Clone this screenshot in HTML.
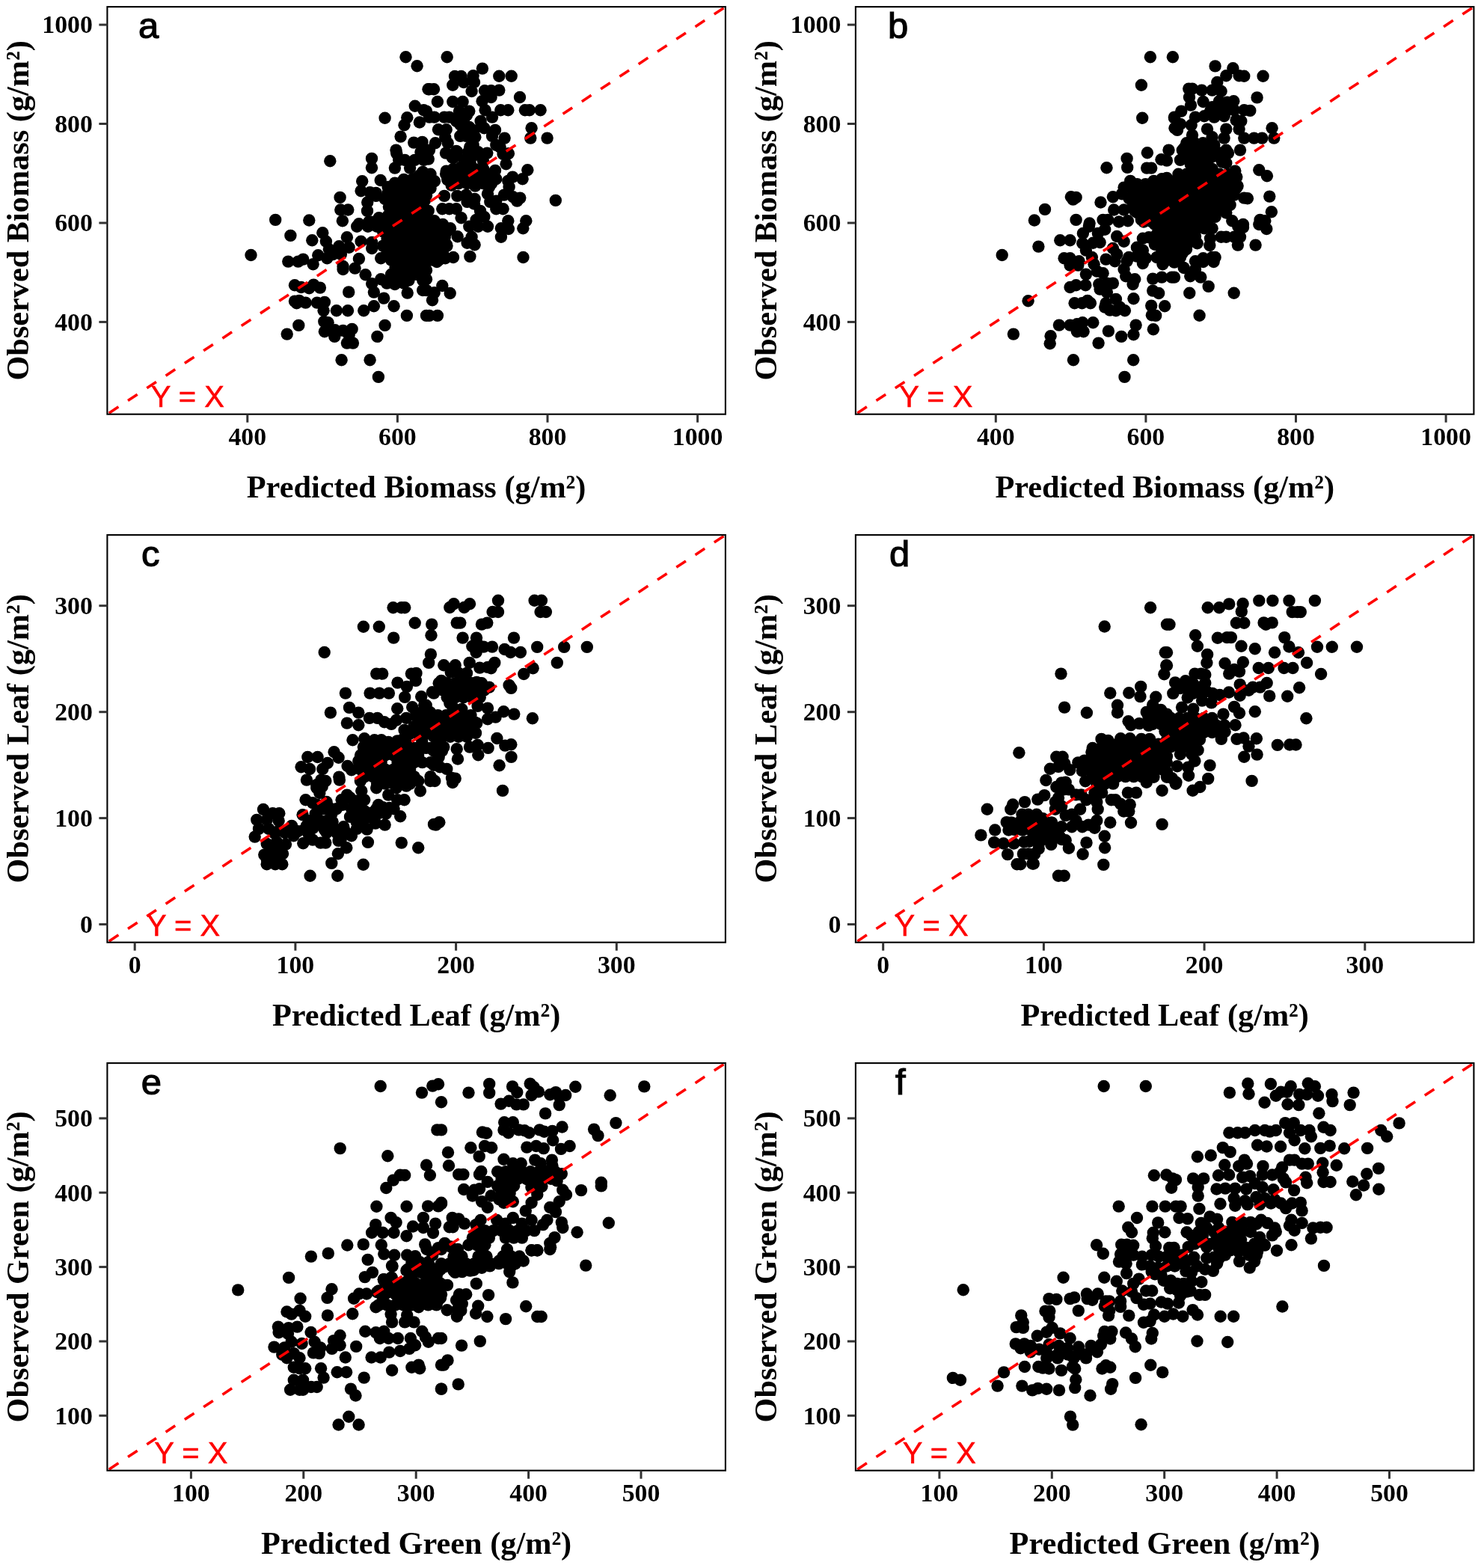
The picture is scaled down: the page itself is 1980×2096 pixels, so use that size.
<!DOCTYPE html>
<html lang="en"><head><meta charset="utf-8"><title>Observed vs Predicted</title>
<style>
html,body{margin:0;padding:0;background:#fff}
body{width:1980px;height:2096px;overflow:hidden}
svg{display:block}
.t{font-family:"Liberation Serif",serif;font-weight:bold;font-size:33.8px;fill:#000}
.l{font-family:"Liberation Serif",serif;font-weight:bold;font-size:42.3px;fill:#000}
.p{font-family:"Liberation Sans",sans-serif;font-size:49px;fill:#000;stroke:#000;stroke-width:1.2px}
.e{font-family:"Liberation Sans",sans-serif;font-size:40px;fill:#f00;stroke:#f00;stroke-width:.5px}
.k{stroke:#333;stroke-width:3}
.f{fill:none;stroke:#000;stroke-width:2.1}
.d{stroke:#f00;stroke-width:3.6;stroke-dasharray:15.14 15.14}
.c circle{r:8.2px}
</style></head>
<body>
<svg width="1980" height="2096" viewBox="0 0 1980 2096">
<rect width="1980" height="2096" fill="#fff"/>
<g id="panel-a">
<g class="c" fill="#000"><circle cx="542.5" cy="76.3" r="8.2"/><circle cx="557.6" cy="88.2" r="8.2"/><circle cx="572.5" cy="119.3" r="8.2"/><circle cx="554.8" cy="141.7" r="8.2"/><circle cx="566.5" cy="147.3" r="8.2"/><circle cx="514.6" cy="157.7" r="8.2"/><circle cx="544.3" cy="157.3" r="8.2"/><circle cx="540.5" cy="167.3" r="8.2"/><circle cx="560.9" cy="163.5" r="8.2"/><circle cx="535.6" cy="182.6" r="8.2"/><circle cx="553.2" cy="190.6" r="8.2"/><circle cx="564.5" cy="189.9" r="8.2"/><circle cx="529.5" cy="200.6" r="8.2"/><circle cx="530.3" cy="205.3" r="8.2"/><circle cx="497.0" cy="211.9" r="8.2"/><circle cx="497.0" cy="224.2" r="8.2"/><circle cx="441.3" cy="215.2" r="8.2"/><circle cx="533.2" cy="213.9" r="8.2"/><circle cx="541.2" cy="213.9" r="8.2"/><circle cx="527.9" cy="224.6" r="8.2"/><circle cx="548.1" cy="224.6" r="8.2"/><circle cx="554.5" cy="213.9" r="8.2"/><circle cx="562.5" cy="203.3" r="8.2"/><circle cx="566.5" cy="213.9" r="8.2"/><circle cx="565.2" cy="229.9" r="8.2"/><circle cx="484.2" cy="242.3" r="8.2"/><circle cx="508.7" cy="241.0" r="8.2"/><circle cx="482.6" cy="255.2" r="8.2"/><circle cx="494.6" cy="257.2" r="8.2"/><circle cx="502.6" cy="257.9" r="8.2"/><circle cx="502.6" cy="261.9" r="8.2"/><circle cx="454.6" cy="263.9" r="8.2"/><circle cx="491.2" cy="270.5" r="8.2"/><circle cx="455.3" cy="280.5" r="8.2"/><circle cx="465.3" cy="280.5" r="8.2"/><circle cx="491.0" cy="281.9" r="8.2"/><circle cx="368.2" cy="293.9" r="8.2"/><circle cx="413.3" cy="294.5" r="8.2"/><circle cx="457.9" cy="295.2" r="8.2"/><circle cx="506.6" cy="291.2" r="8.2"/><circle cx="518.6" cy="249.9" r="8.2"/><circle cx="527.9" cy="244.6" r="8.2"/><circle cx="539.9" cy="239.9" r="8.2"/><circle cx="551.9" cy="239.2" r="8.2"/><circle cx="559.9" cy="235.2" r="8.2"/><circle cx="514.6" cy="265.9" r="8.2"/><circle cx="519.9" cy="276.5" r="8.2"/><circle cx="518.6" cy="288.5" r="8.2"/><circle cx="493.2" cy="296.5" r="8.2"/><circle cx="479.9" cy="299.2" r="8.2"/><circle cx="562.4" cy="239.4" r="8.2"/><circle cx="523.9" cy="249.0" r="8.2"/><circle cx="534.9" cy="249.0" r="8.2"/><circle cx="545.9" cy="249.0" r="8.2"/><circle cx="556.9" cy="249.0" r="8.2"/><circle cx="567.9" cy="249.0" r="8.2"/><circle cx="518.4" cy="258.5" r="8.2"/><circle cx="529.4" cy="258.5" r="8.2"/><circle cx="540.4" cy="258.5" r="8.2"/><circle cx="551.4" cy="258.5" r="8.2"/><circle cx="562.4" cy="258.5" r="8.2"/><circle cx="523.9" cy="268.0" r="8.2"/><circle cx="534.9" cy="268.0" r="8.2"/><circle cx="545.9" cy="268.0" r="8.2"/><circle cx="556.9" cy="268.0" r="8.2"/><circle cx="567.9" cy="268.0" r="8.2"/><circle cx="529.4" cy="277.5" r="8.2"/><circle cx="540.4" cy="277.5" r="8.2"/><circle cx="551.4" cy="277.5" r="8.2"/><circle cx="562.4" cy="277.5" r="8.2"/><circle cx="523.9" cy="287.1" r="8.2"/><circle cx="534.9" cy="287.1" r="8.2"/><circle cx="545.9" cy="287.1" r="8.2"/><circle cx="556.9" cy="287.1" r="8.2"/><circle cx="567.9" cy="287.1" r="8.2"/><circle cx="496.4" cy="296.6" r="8.2"/><circle cx="507.4" cy="296.6" r="8.2"/><circle cx="518.4" cy="296.6" r="8.2"/><circle cx="529.4" cy="296.6" r="8.2"/><circle cx="540.4" cy="296.6" r="8.2"/><circle cx="551.4" cy="296.6" r="8.2"/><circle cx="562.4" cy="296.6" r="8.2"/><circle cx="597.7" cy="76.3" r="8.2"/><circle cx="644.9" cy="91.6" r="8.2"/><circle cx="667.3" cy="101.7" r="8.2"/><circle cx="683.7" cy="101.7" r="8.2"/><circle cx="608.0" cy="102.0" r="8.2"/><circle cx="616.6" cy="102.0" r="8.2"/><circle cx="632.6" cy="101.3" r="8.2"/><circle cx="605.3" cy="113.7" r="8.2"/><circle cx="620.0" cy="110.0" r="8.2"/><circle cx="634.0" cy="110.0" r="8.2"/><circle cx="630.6" cy="122.0" r="8.2"/><circle cx="574.0" cy="119.3" r="8.2"/><circle cx="580.0" cy="119.3" r="8.2"/><circle cx="648.0" cy="121.3" r="8.2"/><circle cx="656.6" cy="121.3" r="8.2"/><circle cx="667.3" cy="120.6" r="8.2"/><circle cx="656.6" cy="130.0" r="8.2"/><circle cx="644.6" cy="135.3" r="8.2"/><circle cx="695.0" cy="130.0" r="8.2"/><circle cx="584.9" cy="136.0" r="8.2"/><circle cx="605.3" cy="136.0" r="8.2"/><circle cx="618.6" cy="136.0" r="8.2"/><circle cx="648.6" cy="147.3" r="8.2"/><circle cx="669.3" cy="147.3" r="8.2"/><circle cx="679.3" cy="147.3" r="8.2"/><circle cx="701.9" cy="147.3" r="8.2"/><circle cx="707.9" cy="147.3" r="8.2"/><circle cx="722.6" cy="147.3" r="8.2"/><circle cx="614.0" cy="148.6" r="8.2"/><circle cx="627.3" cy="148.6" r="8.2"/><circle cx="570.0" cy="148.6" r="8.2"/><circle cx="574.0" cy="156.6" r="8.2"/><circle cx="580.7" cy="156.6" r="8.2"/><circle cx="594.0" cy="156.6" r="8.2"/><circle cx="600.7" cy="156.6" r="8.2"/><circle cx="658.0" cy="156.6" r="8.2"/><circle cx="642.6" cy="161.9" r="8.2"/><circle cx="610.0" cy="161.9" r="8.2"/><circle cx="620.6" cy="164.6" r="8.2"/><circle cx="627.3" cy="169.9" r="8.2"/><circle cx="586.0" cy="173.3" r="8.2"/><circle cx="596.7" cy="173.3" r="8.2"/><circle cx="647.3" cy="171.3" r="8.2"/><circle cx="662.0" cy="173.9" r="8.2"/><circle cx="710.6" cy="171.3" r="8.2"/><circle cx="615.3" cy="181.9" r="8.2"/><circle cx="623.3" cy="181.9" r="8.2"/><circle cx="635.3" cy="183.3" r="8.2"/><circle cx="658.0" cy="181.9" r="8.2"/><circle cx="674.6" cy="184.6" r="8.2"/><circle cx="709.3" cy="184.6" r="8.2"/><circle cx="731.6" cy="184.6" r="8.2"/><circle cx="582.0" cy="191.3" r="8.2"/><circle cx="598.7" cy="191.3" r="8.2"/><circle cx="632.6" cy="193.9" r="8.2"/><circle cx="663.3" cy="193.9" r="8.2"/><circle cx="668.6" cy="196.6" r="8.2"/><circle cx="574.0" cy="200.6" r="8.2"/><circle cx="596.0" cy="204.6" r="8.2"/><circle cx="610.0" cy="201.9" r="8.2"/><circle cx="626.0" cy="203.3" r="8.2"/><circle cx="639.3" cy="203.3" r="8.2"/><circle cx="651.3" cy="204.6" r="8.2"/><circle cx="672.6" cy="205.9" r="8.2"/><circle cx="679.9" cy="205.3" r="8.2"/><circle cx="606.0" cy="211.2" r="8.2"/><circle cx="620.6" cy="213.9" r="8.2"/><circle cx="628.6" cy="217.9" r="8.2"/><circle cx="646.0" cy="215.2" r="8.2"/><circle cx="676.6" cy="219.2" r="8.2"/><circle cx="705.3" cy="227.2" r="8.2"/><circle cx="662.0" cy="227.9" r="8.2"/><circle cx="685.3" cy="236.6" r="8.2"/><circle cx="698.6" cy="239.2" r="8.2"/><circle cx="679.3" cy="241.9" r="8.2"/><circle cx="663.3" cy="239.2" r="8.2"/><circle cx="596.7" cy="228.6" r="8.2"/><circle cx="606.0" cy="225.9" r="8.2"/><circle cx="616.6" cy="223.2" r="8.2"/><circle cx="680.6" cy="249.9" r="8.2"/><circle cx="635.3" cy="248.6" r="8.2"/><circle cx="654.0" cy="249.9" r="8.2"/><circle cx="594.0" cy="261.9" r="8.2"/><circle cx="611.3" cy="261.9" r="8.2"/><circle cx="623.3" cy="260.6" r="8.2"/><circle cx="652.0" cy="259.2" r="8.2"/><circle cx="673.9" cy="260.6" r="8.2"/><circle cx="685.9" cy="263.2" r="8.2"/><circle cx="695.3" cy="264.6" r="8.2"/><circle cx="742.8" cy="267.9" r="8.2"/><circle cx="663.3" cy="268.6" r="8.2"/><circle cx="691.3" cy="268.6" r="8.2"/><circle cx="655.3" cy="269.9" r="8.2"/><circle cx="634.0" cy="272.5" r="8.2"/><circle cx="624.6" cy="269.9" r="8.2"/><circle cx="591.3" cy="279.2" r="8.2"/><circle cx="600.7" cy="279.2" r="8.2"/><circle cx="610.0" cy="279.2" r="8.2"/><circle cx="642.0" cy="281.9" r="8.2"/><circle cx="663.3" cy="279.2" r="8.2"/><circle cx="672.6" cy="279.2" r="8.2"/><circle cx="572.7" cy="281.9" r="8.2"/><circle cx="616.6" cy="291.2" r="8.2"/><circle cx="580.7" cy="295.2" r="8.2"/><circle cx="679.3" cy="295.2" r="8.2"/><circle cx="703.3" cy="295.2" r="8.2"/><circle cx="636.6" cy="293.9" r="8.2"/><circle cx="647.3" cy="289.9" r="8.2"/><circle cx="613.2" cy="226.1" r="8.2"/><circle cx="624.2" cy="226.1" r="8.2"/><circle cx="635.2" cy="226.1" r="8.2"/><circle cx="646.2" cy="226.1" r="8.2"/><circle cx="607.7" cy="235.6" r="8.2"/><circle cx="618.7" cy="235.6" r="8.2"/><circle cx="629.7" cy="235.6" r="8.2"/><circle cx="640.7" cy="235.6" r="8.2"/><circle cx="651.7" cy="235.6" r="8.2"/><circle cx="613.2" cy="245.2" r="8.2"/><circle cx="624.2" cy="245.2" r="8.2"/><circle cx="635.2" cy="245.2" r="8.2"/><circle cx="646.2" cy="245.2" r="8.2"/><circle cx="657.2" cy="245.2" r="8.2"/><circle cx="575.5" cy="232.8" r="8.2"/><circle cx="570.0" cy="242.3" r="8.2"/><circle cx="581.0" cy="242.3" r="8.2"/><circle cx="575.5" cy="251.8" r="8.2"/><circle cx="570.0" cy="261.3" r="8.2"/><circle cx="627.3" cy="302.7" r="8.2"/><circle cx="639.3" cy="302.7" r="8.2"/><circle cx="652.0" cy="302.7" r="8.2"/><circle cx="669.9" cy="305.3" r="8.2"/><circle cx="679.9" cy="306.0" r="8.2"/><circle cx="699.3" cy="305.3" r="8.2"/><circle cx="602.0" cy="305.3" r="8.2"/><circle cx="611.7" cy="316.3" r="8.2"/><circle cx="630.6" cy="316.7" r="8.2"/><circle cx="669.9" cy="316.7" r="8.2"/><circle cx="624.6" cy="324.7" r="8.2"/><circle cx="634.6" cy="327.3" r="8.2"/><circle cx="594.7" cy="317.3" r="8.2"/><circle cx="596.7" cy="326.7" r="8.2"/><circle cx="578.0" cy="313.3" r="8.2"/><circle cx="570.0" cy="300.0" r="8.2"/><circle cx="581.0" cy="300.0" r="8.2"/><circle cx="592.0" cy="300.0" r="8.2"/><circle cx="575.5" cy="309.5" r="8.2"/><circle cx="586.5" cy="309.5" r="8.2"/><circle cx="597.5" cy="309.5" r="8.2"/><circle cx="570.0" cy="319.1" r="8.2"/><circle cx="581.0" cy="319.1" r="8.2"/><circle cx="592.0" cy="319.1" r="8.2"/><circle cx="575.5" cy="328.6" r="8.2"/><circle cx="586.5" cy="328.6" r="8.2"/><circle cx="597.5" cy="328.6" r="8.2"/><circle cx="570.0" cy="338.1" r="8.2"/><circle cx="581.0" cy="338.1" r="8.2"/><circle cx="592.0" cy="338.1" r="8.2"/><circle cx="575.5" cy="347.6" r="8.2"/><circle cx="586.5" cy="347.6" r="8.2"/><circle cx="628.4" cy="342.9" r="8.2"/><circle cx="606.0" cy="344.0" r="8.2"/><circle cx="699.5" cy="344.0" r="8.2"/><circle cx="595.3" cy="345.3" r="8.2"/><circle cx="584.0" cy="350.0" r="8.2"/><circle cx="570.0" cy="373.3" r="8.2"/><circle cx="570.0" cy="361.3" r="8.2"/><circle cx="591.3" cy="382.0" r="8.2"/><circle cx="580.7" cy="391.3" r="8.2"/><circle cx="601.7" cy="392.0" r="8.2"/><circle cx="578.0" cy="401.3" r="8.2"/><circle cx="570.0" cy="388.0" r="8.2"/><circle cx="574.0" cy="421.9" r="8.2"/><circle cx="584.9" cy="421.9" r="8.2"/><circle cx="335.5" cy="341.0" r="8.2"/><circle cx="388.4" cy="314.9" r="8.2"/><circle cx="417.3" cy="321.3" r="8.2"/><circle cx="431.3" cy="311.3" r="8.2"/><circle cx="435.9" cy="322.7" r="8.2"/><circle cx="439.9" cy="333.3" r="8.2"/><circle cx="463.9" cy="317.3" r="8.2"/><circle cx="453.3" cy="329.3" r="8.2"/><circle cx="466.6" cy="330.7" r="8.2"/><circle cx="482.6" cy="322.7" r="8.2"/><circle cx="497.2" cy="324.0" r="8.2"/><circle cx="497.2" cy="332.0" r="8.2"/><circle cx="477.2" cy="302.7" r="8.2"/><circle cx="491.9" cy="302.7" r="8.2"/><circle cx="503.9" cy="302.7" r="8.2"/><circle cx="385.3" cy="349.6" r="8.2"/><circle cx="398.6" cy="349.6" r="8.2"/><circle cx="405.3" cy="346.6" r="8.2"/><circle cx="418.6" cy="353.3" r="8.2"/><circle cx="425.3" cy="341.3" r="8.2"/><circle cx="437.3" cy="345.3" r="8.2"/><circle cx="445.3" cy="340.0" r="8.2"/><circle cx="455.9" cy="340.0" r="8.2"/><circle cx="479.9" cy="346.0" r="8.2"/><circle cx="458.6" cy="356.0" r="8.2"/><circle cx="458.6" cy="360.0" r="8.2"/><circle cx="474.6" cy="358.6" r="8.2"/><circle cx="488.6" cy="367.3" r="8.2"/><circle cx="509.2" cy="345.3" r="8.2"/><circle cx="497.2" cy="379.3" r="8.2"/><circle cx="509.2" cy="373.3" r="8.2"/><circle cx="499.9" cy="390.6" r="8.2"/><circle cx="513.2" cy="398.6" r="8.2"/><circle cx="506.6" cy="300.0" r="8.2"/><circle cx="517.6" cy="300.0" r="8.2"/><circle cx="528.6" cy="300.0" r="8.2"/><circle cx="539.6" cy="300.0" r="8.2"/><circle cx="550.6" cy="300.0" r="8.2"/><circle cx="561.6" cy="300.0" r="8.2"/><circle cx="512.1" cy="309.5" r="8.2"/><circle cx="523.1" cy="309.5" r="8.2"/><circle cx="534.1" cy="309.5" r="8.2"/><circle cx="545.1" cy="309.5" r="8.2"/><circle cx="556.1" cy="309.5" r="8.2"/><circle cx="567.1" cy="309.5" r="8.2"/><circle cx="517.6" cy="319.1" r="8.2"/><circle cx="528.6" cy="319.1" r="8.2"/><circle cx="539.6" cy="319.1" r="8.2"/><circle cx="550.6" cy="319.1" r="8.2"/><circle cx="561.6" cy="319.1" r="8.2"/><circle cx="512.1" cy="328.6" r="8.2"/><circle cx="523.1" cy="328.6" r="8.2"/><circle cx="534.1" cy="328.6" r="8.2"/><circle cx="545.1" cy="328.6" r="8.2"/><circle cx="556.1" cy="328.6" r="8.2"/><circle cx="567.1" cy="328.6" r="8.2"/><circle cx="517.6" cy="338.1" r="8.2"/><circle cx="528.6" cy="338.1" r="8.2"/><circle cx="539.6" cy="338.1" r="8.2"/><circle cx="550.6" cy="338.1" r="8.2"/><circle cx="561.6" cy="338.1" r="8.2"/><circle cx="523.1" cy="347.6" r="8.2"/><circle cx="534.1" cy="347.6" r="8.2"/><circle cx="545.1" cy="347.6" r="8.2"/><circle cx="556.1" cy="347.6" r="8.2"/><circle cx="567.1" cy="347.6" r="8.2"/><circle cx="528.6" cy="357.2" r="8.2"/><circle cx="539.6" cy="357.2" r="8.2"/><circle cx="550.6" cy="357.2" r="8.2"/><circle cx="561.6" cy="357.2" r="8.2"/><circle cx="523.1" cy="366.7" r="8.2"/><circle cx="534.1" cy="366.7" r="8.2"/><circle cx="545.1" cy="366.7" r="8.2"/><circle cx="556.1" cy="366.7" r="8.2"/><circle cx="567.1" cy="366.7" r="8.2"/><circle cx="528.6" cy="376.2" r="8.2"/><circle cx="539.6" cy="376.2" r="8.2"/><circle cx="517.2" cy="378.6" r="8.2"/><circle cx="527.9" cy="380.0" r="8.2"/><circle cx="539.9" cy="378.6" r="8.2"/><circle cx="546.5" cy="374.6" r="8.2"/><circle cx="565.2" cy="374.6" r="8.2"/><circle cx="565.2" cy="388.0" r="8.2"/><circle cx="544.7" cy="391.6" r="8.2"/><circle cx="394.0" cy="381.3" r="8.2"/><circle cx="402.6" cy="384.0" r="8.2"/><circle cx="413.3" cy="385.3" r="8.2"/><circle cx="419.3" cy="380.6" r="8.2"/><circle cx="427.9" cy="384.6" r="8.2"/><circle cx="466.2" cy="390.4" r="8.2"/><circle cx="394.0" cy="402.6" r="8.2"/><circle cx="400.0" cy="401.9" r="8.2"/><circle cx="408.6" cy="404.6" r="8.2"/><circle cx="423.9" cy="404.6" r="8.2"/><circle cx="433.9" cy="403.9" r="8.2"/><circle cx="396.6" cy="405.3" r="8.2"/><circle cx="432.6" cy="415.3" r="8.2"/><circle cx="449.9" cy="415.3" r="8.2"/><circle cx="465.0" cy="415.3" r="8.2"/><circle cx="486.3" cy="415.3" r="8.2"/><circle cx="499.9" cy="409.3" r="8.2"/><circle cx="526.6" cy="409.3" r="8.2"/><circle cx="543.9" cy="421.9" r="8.2"/><circle cx="570.0" cy="421.9" r="8.2"/><circle cx="399.3" cy="434.9" r="8.2"/><circle cx="383.7" cy="446.6" r="8.2"/><circle cx="433.3" cy="429.9" r="8.2"/><circle cx="438.6" cy="431.3" r="8.2"/><circle cx="433.9" cy="443.3" r="8.2"/><circle cx="447.9" cy="441.3" r="8.2"/><circle cx="458.6" cy="441.9" r="8.2"/><circle cx="470.6" cy="439.9" r="8.2"/><circle cx="447.3" cy="449.9" r="8.2"/><circle cx="463.9" cy="458.6" r="8.2"/><circle cx="471.9" cy="458.6" r="8.2"/><circle cx="466.6" cy="447.9" r="8.2"/><circle cx="514.6" cy="434.9" r="8.2"/><circle cx="504.4" cy="449.9" r="8.2"/><circle cx="456.6" cy="481.2" r="8.2"/><circle cx="494.6" cy="481.2" r="8.2"/><circle cx="505.9" cy="503.9" r="8.2"/><circle cx="598.2" cy="240.1" r="8.2"/><circle cx="603.6" cy="247.6" r="8.2"/><circle cx="596.1" cy="232.6" r="8.2"/><circle cx="615.4" cy="166.8" r="8.2"/><circle cx="619.7" cy="174.2" r="8.2"/><circle cx="633.6" cy="174.2" r="8.2"/><circle cx="595.2" cy="183.8" r="8.2"/><circle cx="624.0" cy="154.0" r="8.2"/><circle cx="617.6" cy="158.2" r="8.2"/><circle cx="604.8" cy="210.5" r="8.2"/><circle cx="624.0" cy="212.6" r="8.2"/><circle cx="634.6" cy="207.3" r="8.2"/><circle cx="611.2" cy="203.0" r="8.2"/><circle cx="628.2" cy="196.6" r="8.2"/><circle cx="572.8" cy="212.6" r="8.2"/><circle cx="653.8" cy="247.8" r="8.2"/><circle cx="634.6" cy="265.9" r="8.2"/></g>
<line class="d" x1="143.4" y1="553.7" x2="969.9" y2="9.1" stroke-dashoffset="-2.8"/>
<rect class="f" x="143.4" y="9.1" width="826.5" height="544.6"/>
<line class="k" x1="330.8" y1="553.7" x2="330.8" y2="564.7"/><text class="t" x="330.8" y="595.2" text-anchor="middle">400</text>
<line class="k" x1="531.4" y1="553.7" x2="531.4" y2="564.7"/><text class="t" x="531.4" y="595.2" text-anchor="middle">600</text>
<line class="k" x1="732.0" y1="553.7" x2="732.0" y2="564.7"/><text class="t" x="732.0" y="595.2" text-anchor="middle">800</text>
<line class="k" x1="932.6" y1="553.7" x2="932.6" y2="564.7"/><text class="t" x="932.6" y="595.2" text-anchor="middle">1000</text>
<line class="k" x1="132.4" y1="430.4" x2="143.4" y2="430.4"/><text class="t" x="123.9" y="441.7" text-anchor="end">400</text>
<line class="k" x1="132.4" y1="298.0" x2="143.4" y2="298.0"/><text class="t" x="123.9" y="309.3" text-anchor="end">600</text>
<line class="k" x1="132.4" y1="165.5" x2="143.4" y2="165.5"/><text class="t" x="123.9" y="176.8" text-anchor="end">800</text>
<line class="k" x1="132.4" y1="33.1" x2="143.4" y2="33.1"/><text class="t" x="123.9" y="44.4" text-anchor="end">1000</text>
<text class="l" x="556.6" y="665.2" text-anchor="middle">Predicted Biomass (g/m²)</text>
<text class="l" transform="translate(37.9 281.4) rotate(-90)" text-anchor="middle">Observed Biomass (g/m²)</text>
<text class="p" x="185.1" y="50.5">a</text>
<text class="e" x="201.8" y="543.9">Y = X</text>
</g>
<g id="panel-b">
<g class="c" fill="#000"><circle cx="1537.9" cy="76.3" r="8.2"/><circle cx="1567.9" cy="76.3" r="8.2"/><circle cx="1525.9" cy="113.7" r="8.2"/><circle cx="1527.2" cy="157.7" r="8.2"/><circle cx="1570.0" cy="157.7" r="8.2"/><circle cx="1570.5" cy="171.3" r="8.2"/><circle cx="1562.5" cy="200.6" r="8.2"/><circle cx="1533.9" cy="204.2" r="8.2"/><circle cx="1506.6" cy="211.9" r="8.2"/><circle cx="1552.5" cy="213.2" r="8.2"/><circle cx="1559.9" cy="214.6" r="8.2"/><circle cx="1479.5" cy="224.2" r="8.2"/><circle cx="1507.2" cy="223.9" r="8.2"/><circle cx="1533.2" cy="224.6" r="8.2"/><circle cx="1539.2" cy="224.6" r="8.2"/><circle cx="1511.2" cy="241.9" r="8.2"/><circle cx="1542.5" cy="241.9" r="8.2"/><circle cx="1553.2" cy="239.2" r="8.2"/><circle cx="1559.9" cy="237.9" r="8.2"/><circle cx="1502.6" cy="250.6" r="8.2"/><circle cx="1515.9" cy="248.6" r="8.2"/><circle cx="1527.9" cy="249.9" r="8.2"/><circle cx="1499.9" cy="259.2" r="8.2"/><circle cx="1431.9" cy="263.2" r="8.2"/><circle cx="1438.6" cy="263.9" r="8.2"/><circle cx="1434.6" cy="266.6" r="8.2"/><circle cx="1487.9" cy="263.2" r="8.2"/><circle cx="1471.5" cy="270.5" r="8.2"/><circle cx="1520.4" cy="246.1" r="8.2"/><circle cx="1531.4" cy="246.1" r="8.2"/><circle cx="1542.4" cy="246.1" r="8.2"/><circle cx="1553.4" cy="246.1" r="8.2"/><circle cx="1564.4" cy="246.1" r="8.2"/><circle cx="1514.9" cy="255.6" r="8.2"/><circle cx="1525.9" cy="255.6" r="8.2"/><circle cx="1536.9" cy="255.6" r="8.2"/><circle cx="1547.9" cy="255.6" r="8.2"/><circle cx="1558.9" cy="255.6" r="8.2"/><circle cx="1569.9" cy="255.6" r="8.2"/><circle cx="1509.4" cy="265.1" r="8.2"/><circle cx="1520.4" cy="265.1" r="8.2"/><circle cx="1531.4" cy="265.1" r="8.2"/><circle cx="1542.4" cy="265.1" r="8.2"/><circle cx="1553.4" cy="265.1" r="8.2"/><circle cx="1564.4" cy="265.1" r="8.2"/><circle cx="1514.9" cy="274.7" r="8.2"/><circle cx="1525.9" cy="274.7" r="8.2"/><circle cx="1536.9" cy="274.7" r="8.2"/><circle cx="1547.9" cy="274.7" r="8.2"/><circle cx="1558.9" cy="274.7" r="8.2"/><circle cx="1569.9" cy="274.7" r="8.2"/><circle cx="1520.4" cy="284.2" r="8.2"/><circle cx="1531.4" cy="284.2" r="8.2"/><circle cx="1542.4" cy="284.2" r="8.2"/><circle cx="1553.4" cy="284.2" r="8.2"/><circle cx="1564.4" cy="284.2" r="8.2"/><circle cx="1525.9" cy="293.7" r="8.2"/><circle cx="1536.9" cy="293.7" r="8.2"/><circle cx="1547.9" cy="293.7" r="8.2"/><circle cx="1558.9" cy="293.7" r="8.2"/><circle cx="1569.9" cy="293.7" r="8.2"/><circle cx="1397.0" cy="279.9" r="8.2"/><circle cx="1489.2" cy="280.5" r="8.2"/><circle cx="1502.6" cy="280.5" r="8.2"/><circle cx="1517.2" cy="281.9" r="8.2"/><circle cx="1382.9" cy="294.5" r="8.2"/><circle cx="1438.6" cy="293.9" r="8.2"/><circle cx="1456.6" cy="298.5" r="8.2"/><circle cx="1474.6" cy="293.9" r="8.2"/><circle cx="1481.2" cy="293.9" r="8.2"/><circle cx="1495.9" cy="296.5" r="8.2"/><circle cx="1507.9" cy="295.2" r="8.2"/><circle cx="1529.2" cy="296.5" r="8.2"/><circle cx="1539.9" cy="296.5" r="8.2"/><circle cx="1624.6" cy="88.4" r="8.2"/><circle cx="1648.4" cy="91.3" r="8.2"/><circle cx="1639.3" cy="101.3" r="8.2"/><circle cx="1656.6" cy="101.3" r="8.2"/><circle cx="1663.3" cy="101.7" r="8.2"/><circle cx="1688.6" cy="101.7" r="8.2"/><circle cx="1627.3" cy="110.0" r="8.2"/><circle cx="1589.3" cy="118.6" r="8.2"/><circle cx="1594.0" cy="118.6" r="8.2"/><circle cx="1606.6" cy="120.6" r="8.2"/><circle cx="1620.6" cy="120.6" r="8.2"/><circle cx="1632.6" cy="122.0" r="8.2"/><circle cx="1590.0" cy="130.0" r="8.2"/><circle cx="1680.6" cy="130.4" r="8.2"/><circle cx="1608.6" cy="136.0" r="8.2"/><circle cx="1592.0" cy="140.6" r="8.2"/><circle cx="1630.0" cy="135.3" r="8.2"/><circle cx="1640.6" cy="136.6" r="8.2"/><circle cx="1649.3" cy="135.3" r="8.2"/><circle cx="1579.3" cy="148.6" r="8.2"/><circle cx="1618.0" cy="148.6" r="8.2"/><circle cx="1634.0" cy="145.9" r="8.2"/><circle cx="1650.0" cy="147.3" r="8.2"/><circle cx="1663.3" cy="147.3" r="8.2"/><circle cx="1671.3" cy="147.9" r="8.2"/><circle cx="1570.0" cy="156.6" r="8.2"/><circle cx="1598.0" cy="156.6" r="8.2"/><circle cx="1610.0" cy="155.3" r="8.2"/><circle cx="1623.3" cy="156.6" r="8.2"/><circle cx="1636.6" cy="155.3" r="8.2"/><circle cx="1652.6" cy="160.6" r="8.2"/><circle cx="1659.3" cy="161.9" r="8.2"/><circle cx="1578.0" cy="165.9" r="8.2"/><circle cx="1592.7" cy="167.3" r="8.2"/><circle cx="1614.0" cy="172.6" r="8.2"/><circle cx="1639.3" cy="172.6" r="8.2"/><circle cx="1656.6" cy="172.6" r="8.2"/><circle cx="1700.6" cy="171.3" r="8.2"/><circle cx="1574.0" cy="173.9" r="8.2"/><circle cx="1594.0" cy="180.6" r="8.2"/><circle cx="1620.6" cy="183.3" r="8.2"/><circle cx="1636.6" cy="184.6" r="8.2"/><circle cx="1663.3" cy="184.6" r="8.2"/><circle cx="1676.6" cy="184.6" r="8.2"/><circle cx="1687.3" cy="184.6" r="8.2"/><circle cx="1703.3" cy="184.6" r="8.2"/><circle cx="1583.3" cy="197.9" r="8.2"/><circle cx="1596.7" cy="193.9" r="8.2"/><circle cx="1610.0" cy="193.9" r="8.2"/><circle cx="1623.3" cy="193.9" r="8.2"/><circle cx="1658.0" cy="200.6" r="8.2"/><circle cx="1639.3" cy="200.6" r="8.2"/><circle cx="1642.0" cy="204.6" r="8.2"/><circle cx="1578.0" cy="213.9" r="8.2"/><circle cx="1596.7" cy="209.9" r="8.2"/><circle cx="1610.0" cy="209.9" r="8.2"/><circle cx="1619.3" cy="204.6" r="8.2"/><circle cx="1634.0" cy="216.6" r="8.2"/><circle cx="1639.3" cy="217.9" r="8.2"/><circle cx="1575.5" cy="232.8" r="8.2"/><circle cx="1586.5" cy="232.8" r="8.2"/><circle cx="1597.5" cy="232.8" r="8.2"/><circle cx="1608.5" cy="232.8" r="8.2"/><circle cx="1619.5" cy="232.8" r="8.2"/><circle cx="1630.5" cy="232.8" r="8.2"/><circle cx="1641.5" cy="232.8" r="8.2"/><circle cx="1570.0" cy="242.3" r="8.2"/><circle cx="1581.0" cy="242.3" r="8.2"/><circle cx="1592.0" cy="242.3" r="8.2"/><circle cx="1603.0" cy="242.3" r="8.2"/><circle cx="1614.0" cy="242.3" r="8.2"/><circle cx="1625.0" cy="242.3" r="8.2"/><circle cx="1636.0" cy="242.3" r="8.2"/><circle cx="1647.0" cy="242.3" r="8.2"/><circle cx="1575.5" cy="251.8" r="8.2"/><circle cx="1586.5" cy="251.8" r="8.2"/><circle cx="1597.5" cy="251.8" r="8.2"/><circle cx="1608.5" cy="251.8" r="8.2"/><circle cx="1619.5" cy="251.8" r="8.2"/><circle cx="1630.5" cy="251.8" r="8.2"/><circle cx="1641.5" cy="251.8" r="8.2"/><circle cx="1652.5" cy="251.8" r="8.2"/><circle cx="1570.0" cy="261.3" r="8.2"/><circle cx="1581.0" cy="261.3" r="8.2"/><circle cx="1592.0" cy="261.3" r="8.2"/><circle cx="1603.0" cy="261.3" r="8.2"/><circle cx="1614.0" cy="261.3" r="8.2"/><circle cx="1625.0" cy="261.3" r="8.2"/><circle cx="1636.0" cy="261.3" r="8.2"/><circle cx="1647.0" cy="261.3" r="8.2"/><circle cx="1575.5" cy="270.9" r="8.2"/><circle cx="1586.5" cy="270.9" r="8.2"/><circle cx="1597.5" cy="270.9" r="8.2"/><circle cx="1608.5" cy="270.9" r="8.2"/><circle cx="1619.5" cy="270.9" r="8.2"/><circle cx="1630.5" cy="270.9" r="8.2"/><circle cx="1641.5" cy="270.9" r="8.2"/><circle cx="1570.0" cy="280.4" r="8.2"/><circle cx="1581.0" cy="280.4" r="8.2"/><circle cx="1592.0" cy="280.4" r="8.2"/><circle cx="1603.0" cy="280.4" r="8.2"/><circle cx="1614.0" cy="280.4" r="8.2"/><circle cx="1625.0" cy="280.4" r="8.2"/><circle cx="1636.0" cy="280.4" r="8.2"/><circle cx="1575.5" cy="289.9" r="8.2"/><circle cx="1586.5" cy="289.9" r="8.2"/><circle cx="1597.5" cy="289.9" r="8.2"/><circle cx="1608.5" cy="289.9" r="8.2"/><circle cx="1619.5" cy="289.9" r="8.2"/><circle cx="1570.0" cy="299.4" r="8.2"/><circle cx="1581.0" cy="299.4" r="8.2"/><circle cx="1592.0" cy="299.4" r="8.2"/><circle cx="1603.0" cy="299.4" r="8.2"/><circle cx="1614.0" cy="299.4" r="8.2"/><circle cx="1620.6" cy="225.9" r="8.2"/><circle cx="1651.3" cy="228.6" r="8.2"/><circle cx="1653.3" cy="236.6" r="8.2"/><circle cx="1654.6" cy="248.6" r="8.2"/><circle cx="1650.0" cy="260.6" r="8.2"/><circle cx="1644.6" cy="273.9" r="8.2"/><circle cx="1639.3" cy="284.5" r="8.2"/><circle cx="1586.3" cy="191.3" r="8.2"/><circle cx="1597.3" cy="191.3" r="8.2"/><circle cx="1608.3" cy="191.3" r="8.2"/><circle cx="1619.3" cy="191.3" r="8.2"/><circle cx="1580.8" cy="200.8" r="8.2"/><circle cx="1591.8" cy="200.8" r="8.2"/><circle cx="1602.8" cy="200.8" r="8.2"/><circle cx="1613.8" cy="200.8" r="8.2"/><circle cx="1624.8" cy="200.8" r="8.2"/><circle cx="1586.3" cy="210.3" r="8.2"/><circle cx="1597.3" cy="210.3" r="8.2"/><circle cx="1608.3" cy="210.3" r="8.2"/><circle cx="1619.3" cy="210.3" r="8.2"/><circle cx="1630.3" cy="210.3" r="8.2"/><circle cx="1591.8" cy="219.8" r="8.2"/><circle cx="1602.8" cy="219.8" r="8.2"/><circle cx="1620.6" cy="143.3" r="8.2"/><circle cx="1631.6" cy="143.3" r="8.2"/><circle cx="1642.6" cy="143.3" r="8.2"/><circle cx="1626.1" cy="152.8" r="8.2"/><circle cx="1637.1" cy="152.8" r="8.2"/><circle cx="1683.3" cy="227.2" r="8.2"/><circle cx="1693.9" cy="235.2" r="8.2"/><circle cx="1663.3" cy="264.6" r="8.2"/><circle cx="1667.9" cy="265.2" r="8.2"/><circle cx="1697.3" cy="262.6" r="8.2"/><circle cx="1699.9" cy="283.2" r="8.2"/><circle cx="1684.6" cy="293.9" r="8.2"/><circle cx="1691.3" cy="295.2" r="8.2"/><circle cx="1624.6" cy="289.9" r="8.2"/><circle cx="1647.3" cy="295.2" r="8.2"/><circle cx="1662.0" cy="300.0" r="8.2"/><circle cx="1339.7" cy="341.0" r="8.2"/><circle cx="1388.4" cy="329.6" r="8.2"/><circle cx="1374.6" cy="402.3" r="8.2"/><circle cx="1417.3" cy="321.3" r="8.2"/><circle cx="1430.6" cy="321.3" r="8.2"/><circle cx="1447.9" cy="312.0" r="8.2"/><circle cx="1447.3" cy="325.3" r="8.2"/><circle cx="1451.9" cy="334.6" r="8.2"/><circle cx="1455.9" cy="302.7" r="8.2"/><circle cx="1467.9" cy="312.0" r="8.2"/><circle cx="1461.3" cy="324.7" r="8.2"/><circle cx="1470.6" cy="324.0" r="8.2"/><circle cx="1477.2" cy="306.7" r="8.2"/><circle cx="1493.2" cy="316.0" r="8.2"/><circle cx="1502.6" cy="322.7" r="8.2"/><circle cx="1487.9" cy="332.0" r="8.2"/><circle cx="1493.2" cy="340.0" r="8.2"/><circle cx="1527.9" cy="318.7" r="8.2"/><circle cx="1535.9" cy="317.3" r="8.2"/><circle cx="1519.9" cy="330.7" r="8.2"/><circle cx="1527.9" cy="334.6" r="8.2"/><circle cx="1422.6" cy="345.3" r="8.2"/><circle cx="1430.6" cy="345.3" r="8.2"/><circle cx="1442.6" cy="349.3" r="8.2"/><circle cx="1430.6" cy="354.6" r="8.2"/><circle cx="1441.3" cy="354.6" r="8.2"/><circle cx="1459.9" cy="344.0" r="8.2"/><circle cx="1462.6" cy="353.3" r="8.2"/><circle cx="1478.6" cy="346.6" r="8.2"/><circle cx="1490.6" cy="349.3" r="8.2"/><circle cx="1509.2" cy="344.0" r="8.2"/><circle cx="1506.6" cy="349.3" r="8.2"/><circle cx="1519.9" cy="342.6" r="8.2"/><circle cx="1531.9" cy="345.3" r="8.2"/><circle cx="1527.9" cy="352.0" r="8.2"/><circle cx="1543.9" cy="300.0" r="8.2"/><circle cx="1554.9" cy="300.0" r="8.2"/><circle cx="1565.9" cy="300.0" r="8.2"/><circle cx="1549.4" cy="309.5" r="8.2"/><circle cx="1560.4" cy="309.5" r="8.2"/><circle cx="1543.9" cy="319.1" r="8.2"/><circle cx="1554.9" cy="319.1" r="8.2"/><circle cx="1565.9" cy="319.1" r="8.2"/><circle cx="1549.4" cy="328.6" r="8.2"/><circle cx="1560.4" cy="328.6" r="8.2"/><circle cx="1554.9" cy="338.1" r="8.2"/><circle cx="1565.9" cy="338.1" r="8.2"/><circle cx="1560.4" cy="347.6" r="8.2"/><circle cx="1554.5" cy="353.3" r="8.2"/><circle cx="1546.5" cy="344.0" r="8.2"/><circle cx="1543.9" cy="326.7" r="8.2"/><circle cx="1546.5" cy="313.3" r="8.2"/><circle cx="1570.0" cy="350.6" r="8.2"/><circle cx="1451.9" cy="366.6" r="8.2"/><circle cx="1466.6" cy="362.6" r="8.2"/><circle cx="1474.6" cy="365.3" r="8.2"/><circle cx="1502.6" cy="360.0" r="8.2"/><circle cx="1505.2" cy="369.3" r="8.2"/><circle cx="1517.2" cy="373.3" r="8.2"/><circle cx="1514.6" cy="380.0" r="8.2"/><circle cx="1541.2" cy="372.6" r="8.2"/><circle cx="1553.2" cy="370.6" r="8.2"/><circle cx="1566.5" cy="370.6" r="8.2"/><circle cx="1430.6" cy="384.0" r="8.2"/><circle cx="1438.6" cy="381.3" r="8.2"/><circle cx="1451.3" cy="381.3" r="8.2"/><circle cx="1469.3" cy="380.0" r="8.2"/><circle cx="1479.9" cy="378.6" r="8.2"/><circle cx="1487.9" cy="378.6" r="8.2"/><circle cx="1470.6" cy="386.6" r="8.2"/><circle cx="1479.9" cy="390.6" r="8.2"/><circle cx="1541.2" cy="388.6" r="8.2"/><circle cx="1549.2" cy="392.0" r="8.2"/><circle cx="1491.9" cy="399.9" r="8.2"/><circle cx="1478.6" cy="405.3" r="8.2"/><circle cx="1477.2" cy="410.6" r="8.2"/><circle cx="1515.5" cy="399.3" r="8.2"/><circle cx="1436.6" cy="405.3" r="8.2"/><circle cx="1446.6" cy="405.3" r="8.2"/><circle cx="1453.9" cy="401.9" r="8.2"/><circle cx="1457.9" cy="405.3" r="8.2"/><circle cx="1483.9" cy="414.6" r="8.2"/><circle cx="1491.9" cy="415.3" r="8.2"/><circle cx="1503.9" cy="415.3" r="8.2"/><circle cx="1497.2" cy="410.6" r="8.2"/><circle cx="1539.2" cy="408.6" r="8.2"/><circle cx="1557.2" cy="409.3" r="8.2"/><circle cx="1539.9" cy="421.3" r="8.2"/><circle cx="1545.2" cy="421.9" r="8.2"/><circle cx="1415.9" cy="434.6" r="8.2"/><circle cx="1430.6" cy="434.6" r="8.2"/><circle cx="1439.9" cy="433.3" r="8.2"/><circle cx="1447.3" cy="431.3" r="8.2"/><circle cx="1461.3" cy="431.3" r="8.2"/><circle cx="1439.9" cy="443.3" r="8.2"/><circle cx="1448.6" cy="443.3" r="8.2"/><circle cx="1481.9" cy="442.6" r="8.2"/><circle cx="1518.6" cy="434.6" r="8.2"/><circle cx="1541.9" cy="440.2" r="8.2"/><circle cx="1515.5" cy="447.3" r="8.2"/><circle cx="1499.2" cy="449.9" r="8.2"/><circle cx="1354.9" cy="446.6" r="8.2"/><circle cx="1404.6" cy="449.3" r="8.2"/><circle cx="1403.7" cy="459.2" r="8.2"/><circle cx="1468.6" cy="458.6" r="8.2"/><circle cx="1435.0" cy="481.2" r="8.2"/><circle cx="1515.2" cy="481.2" r="8.2"/><circle cx="1503.5" cy="503.9" r="8.2"/><circle cx="1610.0" cy="305.3" r="8.2"/><circle cx="1620.6" cy="305.3" r="8.2"/><circle cx="1655.3" cy="302.7" r="8.2"/><circle cx="1662.0" cy="304.0" r="8.2"/><circle cx="1683.3" cy="300.0" r="8.2"/><circle cx="1693.3" cy="306.0" r="8.2"/><circle cx="1598.0" cy="316.0" r="8.2"/><circle cx="1600.7" cy="325.3" r="8.2"/><circle cx="1618.0" cy="318.7" r="8.2"/><circle cx="1617.3" cy="328.0" r="8.2"/><circle cx="1632.6" cy="316.7" r="8.2"/><circle cx="1639.3" cy="316.7" r="8.2"/><circle cx="1650.0" cy="316.7" r="8.2"/><circle cx="1658.0" cy="316.7" r="8.2"/><circle cx="1654.9" cy="327.6" r="8.2"/><circle cx="1678.6" cy="327.6" r="8.2"/><circle cx="1570.0" cy="300.0" r="8.2"/><circle cx="1581.0" cy="300.0" r="8.2"/><circle cx="1592.0" cy="300.0" r="8.2"/><circle cx="1603.0" cy="300.0" r="8.2"/><circle cx="1575.5" cy="309.5" r="8.2"/><circle cx="1586.5" cy="309.5" r="8.2"/><circle cx="1597.5" cy="309.5" r="8.2"/><circle cx="1570.0" cy="319.1" r="8.2"/><circle cx="1581.0" cy="319.1" r="8.2"/><circle cx="1592.0" cy="319.1" r="8.2"/><circle cx="1575.5" cy="328.6" r="8.2"/><circle cx="1586.5" cy="328.6" r="8.2"/><circle cx="1570.0" cy="338.1" r="8.2"/><circle cx="1581.0" cy="338.1" r="8.2"/><circle cx="1578.0" cy="313.3" r="8.2"/><circle cx="1586.0" cy="333.3" r="8.2"/><circle cx="1578.0" cy="344.0" r="8.2"/><circle cx="1583.3" cy="324.0" r="8.2"/><circle cx="1598.0" cy="349.3" r="8.2"/><circle cx="1608.6" cy="345.3" r="8.2"/><circle cx="1608.6" cy="350.0" r="8.2"/><circle cx="1620.6" cy="344.0" r="8.2"/><circle cx="1624.6" cy="344.0" r="8.2"/><circle cx="1622.6" cy="350.0" r="8.2"/><circle cx="1582.7" cy="358.0" r="8.2"/><circle cx="1591.3" cy="369.3" r="8.2"/><circle cx="1598.0" cy="360.0" r="8.2"/><circle cx="1605.3" cy="370.6" r="8.2"/><circle cx="1570.0" cy="370.6" r="8.2"/><circle cx="1615.7" cy="382.9" r="8.2"/><circle cx="1590.3" cy="391.7" r="8.2"/><circle cx="1649.7" cy="391.7" r="8.2"/><circle cx="1603.6" cy="421.7" r="8.2"/><circle cx="1612.5" cy="221.3" r="8.2"/></g>
<line class="d" x1="1143.9" y1="553.7" x2="1970.4" y2="9.1" stroke-dashoffset="-2.8"/>
<rect class="f" x="1143.9" y="9.1" width="826.5" height="544.6"/>
<line class="k" x1="1331.3" y1="553.7" x2="1331.3" y2="564.7"/><text class="t" x="1331.3" y="595.2" text-anchor="middle">400</text>
<line class="k" x1="1531.9" y1="553.7" x2="1531.9" y2="564.7"/><text class="t" x="1531.9" y="595.2" text-anchor="middle">600</text>
<line class="k" x1="1732.5" y1="553.7" x2="1732.5" y2="564.7"/><text class="t" x="1732.5" y="595.2" text-anchor="middle">800</text>
<line class="k" x1="1933.1" y1="553.7" x2="1933.1" y2="564.7"/><text class="t" x="1933.1" y="595.2" text-anchor="middle">1000</text>
<line class="k" x1="1132.9" y1="430.4" x2="1143.9" y2="430.4"/><text class="t" x="1124.4" y="441.7" text-anchor="end">400</text>
<line class="k" x1="1132.9" y1="298.0" x2="1143.9" y2="298.0"/><text class="t" x="1124.4" y="309.3" text-anchor="end">600</text>
<line class="k" x1="1132.9" y1="165.5" x2="1143.9" y2="165.5"/><text class="t" x="1124.4" y="176.8" text-anchor="end">800</text>
<line class="k" x1="1132.9" y1="33.1" x2="1143.9" y2="33.1"/><text class="t" x="1124.4" y="44.4" text-anchor="end">1000</text>
<text class="l" x="1557.2" y="665.2" text-anchor="middle">Predicted Biomass (g/m²)</text>
<text class="l" transform="translate(1038.4 281.4) rotate(-90)" text-anchor="middle">Observed Biomass (g/m²)</text>
<text class="p" x="1187.1" y="50.5">b</text>
<text class="e" x="1202.3" y="543.9">Y = X</text>
</g>
<g id="panel-c">
<g class="c" fill="#000"><circle cx="525.6" cy="812.2" r="8.2"/><circle cx="536.6" cy="812.2" r="8.2"/><circle cx="541.2" cy="812.2" r="8.2"/><circle cx="485.9" cy="837.7" r="8.2"/><circle cx="506.8" cy="837.7" r="8.2"/><circle cx="554.7" cy="832.8" r="8.2"/><circle cx="577.2" cy="834.6" r="8.2"/><circle cx="576.5" cy="849.3" r="8.2"/><circle cx="526.2" cy="852.6" r="8.2"/><circle cx="433.7" cy="872.0" r="8.2"/><circle cx="575.9" cy="874.6" r="8.2"/><circle cx="573.2" cy="885.9" r="8.2"/><circle cx="503.2" cy="900.6" r="8.2"/><circle cx="511.2" cy="900.6" r="8.2"/><circle cx="549.9" cy="900.6" r="8.2"/><circle cx="556.5" cy="899.9" r="8.2"/><circle cx="555.9" cy="909.9" r="8.2"/><circle cx="531.5" cy="912.6" r="8.2"/><circle cx="543.9" cy="917.9" r="8.2"/><circle cx="461.9" cy="926.6" r="8.2"/><circle cx="494.6" cy="926.6" r="8.2"/><circle cx="507.2" cy="926.6" r="8.2"/><circle cx="519.9" cy="926.6" r="8.2"/><circle cx="541.2" cy="931.9" r="8.2"/><circle cx="563.2" cy="931.3" r="8.2"/><circle cx="577.9" cy="925.3" r="8.2"/><circle cx="467.0" cy="945.9" r="8.2"/><circle cx="479.3" cy="952.6" r="8.2"/><circle cx="441.9" cy="952.6" r="8.2"/><circle cx="531.2" cy="947.2" r="8.2"/><circle cx="551.2" cy="945.2" r="8.2"/><circle cx="493.9" cy="959.9" r="8.2"/><circle cx="504.6" cy="959.9" r="8.2"/><circle cx="513.9" cy="965.2" r="8.2"/><circle cx="523.2" cy="967.9" r="8.2"/><circle cx="529.9" cy="962.6" r="8.2"/><circle cx="543.2" cy="959.9" r="8.2"/><circle cx="463.9" cy="966.6" r="8.2"/><circle cx="479.3" cy="969.2" r="8.2"/><circle cx="540.6" cy="975.9" r="8.2"/><circle cx="539.2" cy="987.9" r="8.2"/><circle cx="471.5" cy="989.2" r="8.2"/><circle cx="487.2" cy="987.2" r="8.2"/><circle cx="500.6" cy="989.2" r="8.2"/><circle cx="509.9" cy="989.2" r="8.2"/><circle cx="519.2" cy="991.9" r="8.2"/><circle cx="569.7" cy="942.8" r="8.2"/><circle cx="564.2" cy="952.3" r="8.2"/><circle cx="575.2" cy="952.3" r="8.2"/><circle cx="558.7" cy="961.8" r="8.2"/><circle cx="569.7" cy="961.8" r="8.2"/><circle cx="553.2" cy="971.4" r="8.2"/><circle cx="564.2" cy="971.4" r="8.2"/><circle cx="575.2" cy="971.4" r="8.2"/><circle cx="547.7" cy="980.9" r="8.2"/><circle cx="558.7" cy="980.9" r="8.2"/><circle cx="569.7" cy="980.9" r="8.2"/><circle cx="531.2" cy="990.4" r="8.2"/><circle cx="542.2" cy="990.4" r="8.2"/><circle cx="564.2" cy="990.4" r="8.2"/><circle cx="492.7" cy="999.9" r="8.2"/><circle cx="503.7" cy="999.9" r="8.2"/><circle cx="514.7" cy="999.9" r="8.2"/><circle cx="525.7" cy="999.9" r="8.2"/><circle cx="536.7" cy="999.9" r="8.2"/><circle cx="547.7" cy="999.9" r="8.2"/><circle cx="558.7" cy="999.9" r="8.2"/><circle cx="569.7" cy="999.9" r="8.2"/><circle cx="556.5" cy="953.2" r="8.2"/><circle cx="567.2" cy="942.6" r="8.2"/><circle cx="485.9" cy="998.6" r="8.2"/><circle cx="666.0" cy="802.7" r="8.2"/><circle cx="714.6" cy="802.7" r="8.2"/><circle cx="723.9" cy="802.7" r="8.2"/><circle cx="722.6" cy="818.0" r="8.2"/><circle cx="729.9" cy="818.0" r="8.2"/><circle cx="601.3" cy="812.0" r="8.2"/><circle cx="606.7" cy="807.3" r="8.2"/><circle cx="620.6" cy="812.0" r="8.2"/><circle cx="628.0" cy="807.3" r="8.2"/><circle cx="658.6" cy="818.0" r="8.2"/><circle cx="666.0" cy="818.0" r="8.2"/><circle cx="610.7" cy="832.6" r="8.2"/><circle cx="615.3" cy="832.6" r="8.2"/><circle cx="644.0" cy="834.6" r="8.2"/><circle cx="651.3" cy="832.6" r="8.2"/><circle cx="618.6" cy="852.6" r="8.2"/><circle cx="637.0" cy="852.6" r="8.2"/><circle cx="687.0" cy="852.6" r="8.2"/><circle cx="631.3" cy="864.0" r="8.2"/><circle cx="638.6" cy="861.3" r="8.2"/><circle cx="646.6" cy="864.6" r="8.2"/><circle cx="658.0" cy="864.6" r="8.2"/><circle cx="636.6" cy="872.0" r="8.2"/><circle cx="674.6" cy="868.0" r="8.2"/><circle cx="682.6" cy="872.0" r="8.2"/><circle cx="695.9" cy="872.0" r="8.2"/><circle cx="718.2" cy="864.9" r="8.2"/><circle cx="754.2" cy="864.9" r="8.2"/><circle cx="784.8" cy="864.9" r="8.2"/><circle cx="593.3" cy="889.3" r="8.2"/><circle cx="608.7" cy="889.3" r="8.2"/><circle cx="627.7" cy="885.9" r="8.2"/><circle cx="641.3" cy="892.6" r="8.2"/><circle cx="652.0" cy="891.9" r="8.2"/><circle cx="661.3" cy="885.9" r="8.2"/><circle cx="656.6" cy="893.3" r="8.2"/><circle cx="744.8" cy="885.9" r="8.2"/><circle cx="712.6" cy="893.3" r="8.2"/><circle cx="700.3" cy="901.0" r="8.2"/><circle cx="602.7" cy="898.6" r="8.2"/><circle cx="613.3" cy="899.9" r="8.2"/><circle cx="624.0" cy="899.9" r="8.2"/><circle cx="590.0" cy="909.9" r="8.2"/><circle cx="600.0" cy="914.6" r="8.2"/><circle cx="612.0" cy="918.6" r="8.2"/><circle cx="626.6" cy="914.6" r="8.2"/><circle cx="637.3" cy="911.9" r="8.2"/><circle cx="644.0" cy="913.3" r="8.2"/><circle cx="654.0" cy="918.6" r="8.2"/><circle cx="680.6" cy="915.9" r="8.2"/><circle cx="683.3" cy="919.9" r="8.2"/><circle cx="586.7" cy="913.3" r="8.2"/><circle cx="597.7" cy="913.3" r="8.2"/><circle cx="608.7" cy="913.3" r="8.2"/><circle cx="619.7" cy="913.3" r="8.2"/><circle cx="630.7" cy="913.3" r="8.2"/><circle cx="641.7" cy="913.3" r="8.2"/><circle cx="592.2" cy="922.8" r="8.2"/><circle cx="603.2" cy="922.8" r="8.2"/><circle cx="614.2" cy="922.8" r="8.2"/><circle cx="625.2" cy="922.8" r="8.2"/><circle cx="636.2" cy="922.8" r="8.2"/><circle cx="647.2" cy="922.8" r="8.2"/><circle cx="597.7" cy="932.3" r="8.2"/><circle cx="608.7" cy="932.3" r="8.2"/><circle cx="619.7" cy="932.3" r="8.2"/><circle cx="630.7" cy="932.3" r="8.2"/><circle cx="641.7" cy="932.3" r="8.2"/><circle cx="580.0" cy="926.6" r="8.2"/><circle cx="601.3" cy="939.9" r="8.2"/><circle cx="605.3" cy="945.2" r="8.2"/><circle cx="617.3" cy="947.9" r="8.2"/><circle cx="638.6" cy="943.9" r="8.2"/><circle cx="652.0" cy="946.6" r="8.2"/><circle cx="662.6" cy="958.6" r="8.2"/><circle cx="673.3" cy="951.2" r="8.2"/><circle cx="687.3" cy="954.6" r="8.2"/><circle cx="711.9" cy="960.3" r="8.2"/><circle cx="652.0" cy="961.2" r="8.2"/><circle cx="585.5" cy="956.1" r="8.2"/><circle cx="596.5" cy="956.1" r="8.2"/><circle cx="607.5" cy="956.1" r="8.2"/><circle cx="618.5" cy="956.1" r="8.2"/><circle cx="629.5" cy="956.1" r="8.2"/><circle cx="580.0" cy="965.6" r="8.2"/><circle cx="591.0" cy="965.6" r="8.2"/><circle cx="602.0" cy="965.6" r="8.2"/><circle cx="613.0" cy="965.6" r="8.2"/><circle cx="624.0" cy="965.6" r="8.2"/><circle cx="635.0" cy="965.6" r="8.2"/><circle cx="585.5" cy="975.2" r="8.2"/><circle cx="596.5" cy="975.2" r="8.2"/><circle cx="607.5" cy="975.2" r="8.2"/><circle cx="618.5" cy="975.2" r="8.2"/><circle cx="629.5" cy="975.2" r="8.2"/><circle cx="580.0" cy="984.7" r="8.2"/><circle cx="591.0" cy="984.7" r="8.2"/><circle cx="602.0" cy="984.7" r="8.2"/><circle cx="613.0" cy="984.7" r="8.2"/><circle cx="624.0" cy="984.7" r="8.2"/><circle cx="585.5" cy="994.2" r="8.2"/><circle cx="580.0" cy="1003.7" r="8.2"/><circle cx="591.0" cy="1003.7" r="8.2"/><circle cx="585.5" cy="1013.3" r="8.2"/><circle cx="580.0" cy="1022.8" r="8.2"/><circle cx="637.3" cy="966.6" r="8.2"/><circle cx="636.0" cy="979.9" r="8.2"/><circle cx="664.4" cy="987.0" r="8.2"/><circle cx="675.3" cy="996.6" r="8.2"/><circle cx="683.3" cy="995.2" r="8.2"/><circle cx="638.6" cy="995.9" r="8.2"/><circle cx="652.6" cy="999.9" r="8.2"/><circle cx="628.0" cy="998.6" r="8.2"/><circle cx="610.7" cy="1001.2" r="8.2"/><circle cx="639.3" cy="1009.2" r="8.2"/><circle cx="683.5" cy="1011.9" r="8.2"/><circle cx="612.0" cy="1014.5" r="8.2"/><circle cx="593.3" cy="998.6" r="8.2"/><circle cx="667.6" cy="1023.2" r="8.2"/><circle cx="586.7" cy="1011.9" r="8.2"/><circle cx="597.3" cy="1027.9" r="8.2"/><circle cx="411.3" cy="1012.0" r="8.2"/><circle cx="424.6" cy="1012.0" r="8.2"/><circle cx="446.6" cy="1005.3" r="8.2"/><circle cx="452.6" cy="1012.7" r="8.2"/><circle cx="437.9" cy="1020.0" r="8.2"/><circle cx="431.3" cy="1028.0" r="8.2"/><circle cx="402.6" cy="1025.3" r="8.2"/><circle cx="414.0" cy="1028.0" r="8.2"/><circle cx="464.6" cy="1024.0" r="8.2"/><circle cx="479.3" cy="1017.3" r="8.2"/><circle cx="469.9" cy="1029.3" r="8.2"/><circle cx="410.0" cy="1042.6" r="8.2"/><circle cx="429.3" cy="1042.6" r="8.2"/><circle cx="435.3" cy="1044.0" r="8.2"/><circle cx="453.3" cy="1038.6" r="8.2"/><circle cx="453.9" cy="1042.6" r="8.2"/><circle cx="423.3" cy="1053.3" r="8.2"/><circle cx="427.3" cy="1060.0" r="8.2"/><circle cx="463.9" cy="1062.6" r="8.2"/><circle cx="456.6" cy="1069.3" r="8.2"/><circle cx="408.6" cy="1069.3" r="8.2"/><circle cx="418.0" cy="1073.3" r="8.2"/><circle cx="436.6" cy="1072.0" r="8.2"/><circle cx="440.6" cy="1080.0" r="8.2"/><circle cx="449.9" cy="1081.3" r="8.2"/><circle cx="481.9" cy="1044.0" r="8.2"/><circle cx="483.3" cy="1057.3" r="8.2"/><circle cx="487.2" cy="1069.3" r="8.2"/><circle cx="473.9" cy="1074.6" r="8.2"/><circle cx="488.6" cy="1085.3" r="8.2"/><circle cx="472.6" cy="1088.0" r="8.2"/><circle cx="476.6" cy="1098.6" r="8.2"/><circle cx="487.6" cy="1000.0" r="8.2"/><circle cx="498.6" cy="1000.0" r="8.2"/><circle cx="509.6" cy="1000.0" r="8.2"/><circle cx="520.6" cy="1000.0" r="8.2"/><circle cx="531.6" cy="1000.0" r="8.2"/><circle cx="542.6" cy="1000.0" r="8.2"/><circle cx="553.6" cy="1000.0" r="8.2"/><circle cx="564.6" cy="1000.0" r="8.2"/><circle cx="575.6" cy="1000.0" r="8.2"/><circle cx="482.1" cy="1009.5" r="8.2"/><circle cx="493.1" cy="1009.5" r="8.2"/><circle cx="504.1" cy="1009.5" r="8.2"/><circle cx="515.1" cy="1009.5" r="8.2"/><circle cx="526.1" cy="1009.5" r="8.2"/><circle cx="537.1" cy="1009.5" r="8.2"/><circle cx="548.1" cy="1009.5" r="8.2"/><circle cx="559.1" cy="1009.5" r="8.2"/><circle cx="487.6" cy="1019.1" r="8.2"/><circle cx="498.6" cy="1019.1" r="8.2"/><circle cx="509.6" cy="1019.1" r="8.2"/><circle cx="531.6" cy="1019.1" r="8.2"/><circle cx="542.6" cy="1019.1" r="8.2"/><circle cx="553.6" cy="1019.1" r="8.2"/><circle cx="564.6" cy="1019.1" r="8.2"/><circle cx="575.6" cy="1019.1" r="8.2"/><circle cx="482.1" cy="1028.6" r="8.2"/><circle cx="493.1" cy="1028.6" r="8.2"/><circle cx="504.1" cy="1028.6" r="8.2"/><circle cx="515.1" cy="1028.6" r="8.2"/><circle cx="526.1" cy="1028.6" r="8.2"/><circle cx="537.1" cy="1028.6" r="8.2"/><circle cx="548.1" cy="1028.6" r="8.2"/><circle cx="487.6" cy="1038.1" r="8.2"/><circle cx="498.6" cy="1038.1" r="8.2"/><circle cx="509.6" cy="1038.1" r="8.2"/><circle cx="520.6" cy="1038.1" r="8.2"/><circle cx="531.6" cy="1038.1" r="8.2"/><circle cx="542.6" cy="1038.1" r="8.2"/><circle cx="553.6" cy="1038.1" r="8.2"/><circle cx="575.6" cy="1038.1" r="8.2"/><circle cx="504.1" cy="1047.6" r="8.2"/><circle cx="515.1" cy="1047.6" r="8.2"/><circle cx="526.1" cy="1047.6" r="8.2"/><circle cx="537.1" cy="1047.6" r="8.2"/><circle cx="548.1" cy="1047.6" r="8.2"/><circle cx="561.9" cy="1057.3" r="8.2"/><circle cx="559.2" cy="1044.0" r="8.2"/><circle cx="519.2" cy="1062.6" r="8.2"/><circle cx="531.2" cy="1069.3" r="8.2"/><circle cx="540.6" cy="1069.3" r="8.2"/><circle cx="505.9" cy="1076.0" r="8.2"/><circle cx="520.6" cy="1080.0" r="8.2"/><circle cx="507.2" cy="1086.6" r="8.2"/><circle cx="535.2" cy="1091.3" r="8.2"/><circle cx="501.9" cy="1100.6" r="8.2"/><circle cx="514.6" cy="1102.6" r="8.2"/><circle cx="490.6" cy="1108.6" r="8.2"/><circle cx="580.0" cy="1101.9" r="8.2"/><circle cx="575.2" cy="1044.0" r="8.2"/><circle cx="503.2" cy="1053.3" r="8.2"/><circle cx="529.9" cy="1053.3" r="8.2"/><circle cx="543.2" cy="1050.6" r="8.2"/><circle cx="352.0" cy="1082.0" r="8.2"/><circle cx="364.6" cy="1087.3" r="8.2"/><circle cx="373.3" cy="1087.3" r="8.2"/><circle cx="343.3" cy="1095.9" r="8.2"/><circle cx="356.7" cy="1095.9" r="8.2"/><circle cx="372.6" cy="1097.3" r="8.2"/><circle cx="346.0" cy="1107.9" r="8.2"/><circle cx="359.3" cy="1107.9" r="8.2"/><circle cx="372.6" cy="1110.6" r="8.2"/><circle cx="340.7" cy="1118.6" r="8.2"/><circle cx="366.0" cy="1113.3" r="8.2"/><circle cx="404.6" cy="1089.3" r="8.2"/><circle cx="390.0" cy="1103.9" r="8.2"/><circle cx="392.6" cy="1117.3" r="8.2"/><circle cx="380.6" cy="1111.9" r="8.2"/><circle cx="410.0" cy="1103.9" r="8.2"/><circle cx="423.3" cy="1090.6" r="8.2"/><circle cx="425.9" cy="1101.3" r="8.2"/><circle cx="436.6" cy="1101.3" r="8.2"/><circle cx="444.6" cy="1098.6" r="8.2"/><circle cx="433.9" cy="1109.3" r="8.2"/><circle cx="412.6" cy="1114.6" r="8.2"/><circle cx="459.3" cy="1105.3" r="8.2"/><circle cx="449.9" cy="1113.3" r="8.2"/><circle cx="469.9" cy="1117.3" r="8.2"/><circle cx="452.6" cy="1123.9" r="8.2"/><circle cx="405.3" cy="1127.3" r="8.2"/><circle cx="418.0" cy="1122.6" r="8.2"/><circle cx="428.6" cy="1126.6" r="8.2"/><circle cx="435.3" cy="1126.6" r="8.2"/><circle cx="463.3" cy="1133.3" r="8.2"/><circle cx="451.9" cy="1141.3" r="8.2"/><circle cx="356.7" cy="1127.9" r="8.2"/><circle cx="370.0" cy="1125.3" r="8.2"/><circle cx="382.0" cy="1128.6" r="8.2"/><circle cx="353.3" cy="1142.6" r="8.2"/><circle cx="364.6" cy="1139.9" r="8.2"/><circle cx="378.0" cy="1141.3" r="8.2"/><circle cx="356.7" cy="1155.3" r="8.2"/><circle cx="368.0" cy="1155.3" r="8.2"/><circle cx="377.3" cy="1155.3" r="8.2"/><circle cx="491.9" cy="1125.9" r="8.2"/><circle cx="536.8" cy="1126.6" r="8.2"/><circle cx="559.2" cy="1133.3" r="8.2"/><circle cx="443.3" cy="1153.9" r="8.2"/><circle cx="485.7" cy="1155.7" r="8.2"/><circle cx="414.6" cy="1170.8" r="8.2"/><circle cx="451.3" cy="1170.8" r="8.2"/><circle cx="604.0" cy="1040.0" r="8.2"/><circle cx="608.7" cy="1040.6" r="8.2"/><circle cx="605.1" cy="1046.0" r="8.2"/><circle cx="581.3" cy="1044.0" r="8.2"/><circle cx="672.0" cy="1056.9" r="8.2"/><circle cx="587.3" cy="1099.3" r="8.2"/><circle cx="582.7" cy="1102.6" r="8.2"/><circle cx="588.0" cy="1025.3" r="8.2"/><circle cx="468.0" cy="1066.3" r="8.2"/><circle cx="476.5" cy="1070.6" r="8.2"/><circle cx="479.7" cy="1079.1" r="8.2"/><circle cx="470.1" cy="1081.2" r="8.2"/><circle cx="486.1" cy="1083.4" r="8.2"/><circle cx="477.6" cy="1091.9" r="8.2"/><circle cx="489.3" cy="1094.0" r="8.2"/><circle cx="468.0" cy="1091.9" r="8.2"/><circle cx="484.0" cy="1098.3" r="8.2"/><circle cx="423.2" cy="1049.3" r="8.2"/><circle cx="430.7" cy="1051.4" r="8.2"/><circle cx="424.3" cy="1075.9" r="8.2"/><circle cx="432.8" cy="1081.2" r="8.2"/><circle cx="423.2" cy="1091.9" r="8.2"/><circle cx="443.5" cy="1087.6" r="8.2"/><circle cx="430.7" cy="1098.3" r="8.2"/><circle cx="441.3" cy="1097.2" r="8.2"/><circle cx="511.7" cy="1079.1" r="8.2"/><circle cx="515.9" cy="1087.6" r="8.2"/><circle cx="503.2" cy="1081.2" r="8.2"/><circle cx="526.6" cy="1081.2" r="8.2"/><circle cx="413.2" cy="1097.3" r="8.2"/><circle cx="421.7" cy="1087.7" r="8.2"/><circle cx="418.5" cy="1106.9" r="8.2"/><circle cx="406.8" cy="1109.0" r="8.2"/><circle cx="438.7" cy="1096.2" r="8.2"/><circle cx="398.2" cy="1111.1" r="8.2"/><circle cx="389.7" cy="1111.1" r="8.2"/><circle cx="381.2" cy="1113.3" r="8.2"/><circle cx="457.9" cy="1075.9" r="8.2"/><circle cx="473.9" cy="1075.9" r="8.2"/><circle cx="479.3" cy="1086.6" r="8.2"/><circle cx="481.4" cy="1100.5" r="8.2"/><circle cx="477.1" cy="1107.9" r="8.2"/><circle cx="487.8" cy="1091.9" r="8.2"/><circle cx="496.3" cy="1086.6" r="8.2"/><circle cx="500.6" cy="1095.1" r="8.2"/><circle cx="455.8" cy="1121.8" r="8.2"/><circle cx="463.3" cy="1113.3" r="8.2"/><circle cx="436.6" cy="1113.3" r="8.2"/><circle cx="445.1" cy="1105.8" r="8.2"/><circle cx="362.0" cy="1135.7" r="8.2"/><circle cx="372.6" cy="1135.7" r="8.2"/><circle cx="356.7" cy="1148.4" r="8.2"/><circle cx="370.5" cy="1149.5" r="8.2"/></g>
<line class="d" x1="143.4" y1="1259.7" x2="969.9" y2="715.1" stroke-dashoffset="-2.8"/>
<rect class="f" x="143.4" y="715.1" width="826.5" height="544.6"/>
<line class="k" x1="180.2" y1="1259.7" x2="180.2" y2="1270.7"/><text class="t" x="180.2" y="1301.2" text-anchor="middle">0</text>
<line class="k" x1="394.9" y1="1259.7" x2="394.9" y2="1270.7"/><text class="t" x="394.9" y="1301.2" text-anchor="middle">100</text>
<line class="k" x1="609.6" y1="1259.7" x2="609.6" y2="1270.7"/><text class="t" x="609.6" y="1301.2" text-anchor="middle">200</text>
<line class="k" x1="824.3" y1="1259.7" x2="824.3" y2="1270.7"/><text class="t" x="824.3" y="1301.2" text-anchor="middle">300</text>
<line class="k" x1="132.4" y1="1235.6" x2="143.4" y2="1235.6"/><text class="t" x="123.9" y="1246.9" text-anchor="end">0</text>
<line class="k" x1="132.4" y1="1093.6" x2="143.4" y2="1093.6"/><text class="t" x="123.9" y="1104.9" text-anchor="end">100</text>
<line class="k" x1="132.4" y1="951.7" x2="143.4" y2="951.7"/><text class="t" x="123.9" y="963.0" text-anchor="end">200</text>
<line class="k" x1="132.4" y1="809.7" x2="143.4" y2="809.7"/><text class="t" x="123.9" y="821.0" text-anchor="end">300</text>
<text class="l" x="556.6" y="1371.2" text-anchor="middle">Predicted Leaf (g/m²)</text>
<text class="l" transform="translate(37.9 987.4) rotate(-90)" text-anchor="middle">Observed Leaf (g/m²)</text>
<text class="p" x="189.0" y="756.5">c</text>
<text class="e" x="195.9" y="1250.7">Y = X</text>
</g>
<g id="panel-d">
<g class="c" fill="#000"><circle cx="1538.1" cy="812.2" r="8.2"/><circle cx="1476.7" cy="837.5" r="8.2"/><circle cx="1560.0" cy="834.7" r="8.2"/><circle cx="1557.8" cy="872.2" r="8.2"/><circle cx="1559.2" cy="889.5" r="8.2"/><circle cx="1556.4" cy="901.3" r="8.2"/><circle cx="1418.5" cy="900.6" r="8.2"/><circle cx="1525.2" cy="917.9" r="8.2"/><circle cx="1484.3" cy="926.5" r="8.2"/><circle cx="1509.3" cy="926.2" r="8.2"/><circle cx="1524.5" cy="931.1" r="8.2"/><circle cx="1545.3" cy="931.8" r="8.2"/><circle cx="1494.0" cy="942.8" r="8.2"/><circle cx="1494.0" cy="952.5" r="8.2"/><circle cx="1423.1" cy="945.6" r="8.2"/><circle cx="1452.9" cy="952.8" r="8.2"/><circle cx="1541.2" cy="942.2" r="8.2"/><circle cx="1532.8" cy="951.9" r="8.2"/><circle cx="1549.5" cy="950.5" r="8.2"/><circle cx="1560.0" cy="954.6" r="8.2"/><circle cx="1508.6" cy="964.3" r="8.2"/><circle cx="1512.0" cy="969.2" r="8.2"/><circle cx="1523.1" cy="967.1" r="8.2"/><circle cx="1535.6" cy="969.9" r="8.2"/><circle cx="1472.5" cy="987.9" r="8.2"/><circle cx="1481.6" cy="990.0" r="8.2"/><circle cx="1498.2" cy="987.2" r="8.2"/><circle cx="1510.7" cy="987.2" r="8.2"/><circle cx="1525.9" cy="987.9" r="8.2"/><circle cx="1537.0" cy="987.9" r="8.2"/><circle cx="1541.0" cy="948.9" r="8.2"/><circle cx="1552.0" cy="948.9" r="8.2"/><circle cx="1535.5" cy="958.4" r="8.2"/><circle cx="1546.5" cy="958.4" r="8.2"/><circle cx="1557.5" cy="958.4" r="8.2"/><circle cx="1541.0" cy="968.0" r="8.2"/><circle cx="1552.0" cy="968.0" r="8.2"/><circle cx="1557.5" cy="977.5" r="8.2"/><circle cx="1482.9" cy="994.6" r="8.2"/><circle cx="1493.9" cy="994.6" r="8.2"/><circle cx="1504.9" cy="994.6" r="8.2"/><circle cx="1515.9" cy="994.6" r="8.2"/><circle cx="1526.9" cy="994.6" r="8.2"/><circle cx="1537.9" cy="994.6" r="8.2"/><circle cx="1548.9" cy="994.6" r="8.2"/><circle cx="1559.9" cy="994.6" r="8.2"/><circle cx="1362.4" cy="1006.2" r="8.2"/><circle cx="1412.3" cy="1011.8" r="8.2"/><circle cx="1420.6" cy="1011.8" r="8.2"/><circle cx="1403.9" cy="1027.7" r="8.2"/><circle cx="1415.0" cy="1024.9" r="8.2"/><circle cx="1423.3" cy="1020.8" r="8.2"/><circle cx="1430.3" cy="1029.1" r="8.2"/><circle cx="1441.4" cy="1019.4" r="8.2"/><circle cx="1449.7" cy="1016.6" r="8.2"/><circle cx="1459.4" cy="1005.5" r="8.2"/><circle cx="1446.9" cy="1030.5" r="8.2"/><circle cx="1460.7" cy="1000.0" r="8.2"/><circle cx="1471.7" cy="1000.0" r="8.2"/><circle cx="1482.7" cy="1000.0" r="8.2"/><circle cx="1493.7" cy="1000.0" r="8.2"/><circle cx="1504.7" cy="1000.0" r="8.2"/><circle cx="1515.7" cy="1000.0" r="8.2"/><circle cx="1526.7" cy="1000.0" r="8.2"/><circle cx="1537.7" cy="1000.0" r="8.2"/><circle cx="1548.7" cy="1000.0" r="8.2"/><circle cx="1559.7" cy="1000.0" r="8.2"/><circle cx="1466.2" cy="1009.5" r="8.2"/><circle cx="1477.2" cy="1009.5" r="8.2"/><circle cx="1488.2" cy="1009.5" r="8.2"/><circle cx="1499.2" cy="1009.5" r="8.2"/><circle cx="1510.2" cy="1009.5" r="8.2"/><circle cx="1521.2" cy="1009.5" r="8.2"/><circle cx="1532.2" cy="1009.5" r="8.2"/><circle cx="1543.2" cy="1009.5" r="8.2"/><circle cx="1554.2" cy="1009.5" r="8.2"/><circle cx="1460.7" cy="1019.1" r="8.2"/><circle cx="1471.7" cy="1019.1" r="8.2"/><circle cx="1482.7" cy="1019.1" r="8.2"/><circle cx="1493.7" cy="1019.1" r="8.2"/><circle cx="1504.7" cy="1019.1" r="8.2"/><circle cx="1515.7" cy="1019.1" r="8.2"/><circle cx="1526.7" cy="1019.1" r="8.2"/><circle cx="1537.7" cy="1019.1" r="8.2"/><circle cx="1548.7" cy="1019.1" r="8.2"/><circle cx="1559.7" cy="1019.1" r="8.2"/><circle cx="1455.2" cy="1028.6" r="8.2"/><circle cx="1466.2" cy="1028.6" r="8.2"/><circle cx="1477.2" cy="1028.6" r="8.2"/><circle cx="1488.2" cy="1028.6" r="8.2"/><circle cx="1499.2" cy="1028.6" r="8.2"/><circle cx="1510.2" cy="1028.6" r="8.2"/><circle cx="1521.2" cy="1028.6" r="8.2"/><circle cx="1532.2" cy="1028.6" r="8.2"/><circle cx="1543.2" cy="1028.6" r="8.2"/><circle cx="1554.2" cy="1028.6" r="8.2"/><circle cx="1460.7" cy="1038.1" r="8.2"/><circle cx="1471.7" cy="1038.1" r="8.2"/><circle cx="1482.7" cy="1038.1" r="8.2"/><circle cx="1493.7" cy="1038.1" r="8.2"/><circle cx="1504.7" cy="1038.1" r="8.2"/><circle cx="1515.7" cy="1038.1" r="8.2"/><circle cx="1526.7" cy="1038.1" r="8.2"/><circle cx="1537.7" cy="1038.1" r="8.2"/><circle cx="1466.2" cy="1047.6" r="8.2"/><circle cx="1477.2" cy="1047.6" r="8.2"/><circle cx="1488.2" cy="1047.6" r="8.2"/><circle cx="1451.1" cy="1044.3" r="8.2"/><circle cx="1532.8" cy="1045.7" r="8.2"/><circle cx="1542.5" cy="1038.8" r="8.2"/><circle cx="1560.0" cy="1038.8" r="8.2"/><circle cx="1398.4" cy="1043.0" r="8.2"/><circle cx="1419.2" cy="1046.4" r="8.2"/><circle cx="1424.7" cy="1045.7" r="8.2"/><circle cx="1412.3" cy="1052.0" r="8.2"/><circle cx="1422.0" cy="1055.4" r="8.2"/><circle cx="1428.9" cy="1055.4" r="8.2"/><circle cx="1438.6" cy="1062.4" r="8.2"/><circle cx="1445.5" cy="1062.4" r="8.2"/><circle cx="1452.5" cy="1069.3" r="8.2"/><circle cx="1463.5" cy="1059.6" r="8.2"/><circle cx="1473.2" cy="1059.6" r="8.2"/><circle cx="1466.3" cy="1072.1" r="8.2"/><circle cx="1507.9" cy="1059.6" r="8.2"/><circle cx="1519.0" cy="1059.6" r="8.2"/><circle cx="1553.6" cy="1056.8" r="8.2"/><circle cx="1387.3" cy="1068.6" r="8.2"/><circle cx="1396.3" cy="1063.1" r="8.2"/><circle cx="1370.0" cy="1072.1" r="8.2"/><circle cx="1354.1" cy="1075.5" r="8.2"/><circle cx="1351.3" cy="1081.8" r="8.2"/><circle cx="1410.9" cy="1072.1" r="8.2"/><circle cx="1415.0" cy="1066.5" r="8.2"/><circle cx="1419.2" cy="1077.6" r="8.2"/><circle cx="1410.9" cy="1081.8" r="8.2"/><circle cx="1444.1" cy="1081.8" r="8.2"/><circle cx="1485.7" cy="1069.3" r="8.2"/><circle cx="1491.3" cy="1069.3" r="8.2"/><circle cx="1498.2" cy="1074.8" r="8.2"/><circle cx="1510.7" cy="1075.5" r="8.2"/><circle cx="1467.7" cy="1081.8" r="8.2"/><circle cx="1502.3" cy="1084.5" r="8.2"/><circle cx="1509.3" cy="1084.5" r="8.2"/><circle cx="1319.8" cy="1081.8" r="8.2"/><circle cx="1466.3" cy="1097.0" r="8.2"/><circle cx="1484.3" cy="1099.5" r="8.2"/><circle cx="1512.0" cy="1099.8" r="8.2"/><circle cx="1553.6" cy="1101.9" r="8.2"/><circle cx="1366.5" cy="1088.7" r="8.2"/><circle cx="1374.8" cy="1088.7" r="8.2"/><circle cx="1385.9" cy="1088.7" r="8.2"/><circle cx="1394.2" cy="1094.2" r="8.2"/><circle cx="1405.3" cy="1099.8" r="8.2"/><circle cx="1345.7" cy="1099.1" r="8.2"/><circle cx="1352.7" cy="1099.8" r="8.2"/><circle cx="1362.4" cy="1101.2" r="8.2"/><circle cx="1348.5" cy="1109.5" r="8.2"/><circle cx="1330.2" cy="1109.5" r="8.2"/><circle cx="1424.7" cy="1090.1" r="8.2"/><circle cx="1433.0" cy="1088.7" r="8.2"/><circle cx="1438.6" cy="1097.0" r="8.2"/><circle cx="1446.9" cy="1105.3" r="8.2"/><circle cx="1433.0" cy="1105.3" r="8.2"/><circle cx="1463.5" cy="1106.7" r="8.2"/><circle cx="1455.2" cy="1102.6" r="8.2"/><circle cx="1419.2" cy="1105.3" r="8.2"/><circle cx="1410.9" cy="1110.9" r="8.2"/><circle cx="1399.8" cy="1110.9" r="8.2"/><circle cx="1390.1" cy="1108.1" r="8.2"/><circle cx="1377.6" cy="1109.5" r="8.2"/><circle cx="1366.5" cy="1109.5" r="8.2"/><circle cx="1351.2" cy="1099.6" r="8.2"/><circle cx="1362.2" cy="1099.6" r="8.2"/><circle cx="1373.2" cy="1099.6" r="8.2"/><circle cx="1384.2" cy="1099.6" r="8.2"/><circle cx="1395.2" cy="1099.6" r="8.2"/><circle cx="1406.2" cy="1099.6" r="8.2"/><circle cx="1356.7" cy="1109.1" r="8.2"/><circle cx="1367.7" cy="1109.1" r="8.2"/><circle cx="1378.7" cy="1109.1" r="8.2"/><circle cx="1389.7" cy="1109.1" r="8.2"/><circle cx="1400.7" cy="1109.1" r="8.2"/><circle cx="1411.7" cy="1109.1" r="8.2"/><circle cx="1384.2" cy="1118.7" r="8.2"/><circle cx="1395.2" cy="1118.7" r="8.2"/><circle cx="1406.2" cy="1118.7" r="8.2"/><circle cx="1417.2" cy="1118.7" r="8.2"/><circle cx="1311.4" cy="1116.4" r="8.2"/><circle cx="1329.1" cy="1126.1" r="8.2"/><circle cx="1341.6" cy="1127.5" r="8.2"/><circle cx="1355.4" cy="1127.5" r="8.2"/><circle cx="1369.3" cy="1125.4" r="8.2"/><circle cx="1376.2" cy="1124.7" r="8.2"/><circle cx="1388.7" cy="1127.5" r="8.2"/><circle cx="1394.2" cy="1122.0" r="8.2"/><circle cx="1405.3" cy="1128.9" r="8.2"/><circle cx="1419.2" cy="1122.0" r="8.2"/><circle cx="1424.7" cy="1123.3" r="8.2"/><circle cx="1428.9" cy="1133.7" r="8.2"/><circle cx="1476.7" cy="1117.8" r="8.2"/><circle cx="1452.5" cy="1126.4" r="8.2"/><circle cx="1477.1" cy="1133.3" r="8.2"/><circle cx="1347.1" cy="1142.1" r="8.2"/><circle cx="1367.9" cy="1141.4" r="8.2"/><circle cx="1374.8" cy="1141.4" r="8.2"/><circle cx="1383.2" cy="1141.4" r="8.2"/><circle cx="1388.7" cy="1134.4" r="8.2"/><circle cx="1447.6" cy="1141.8" r="8.2"/><circle cx="1359.6" cy="1155.2" r="8.2"/><circle cx="1364.4" cy="1155.2" r="8.2"/><circle cx="1380.4" cy="1154.5" r="8.2"/><circle cx="1381.8" cy="1154.5" r="8.2"/><circle cx="1475.3" cy="1155.9" r="8.2"/><circle cx="1415.0" cy="1170.7" r="8.2"/><circle cx="1422.7" cy="1170.7" r="8.2"/><circle cx="1683.3" cy="802.9" r="8.2"/><circle cx="1701.4" cy="802.9" r="8.2"/><circle cx="1723.5" cy="802.9" r="8.2"/><circle cx="1757.9" cy="802.9" r="8.2"/><circle cx="1614.7" cy="812.2" r="8.2"/><circle cx="1630.0" cy="812.2" r="8.2"/><circle cx="1643.2" cy="807.4" r="8.2"/><circle cx="1661.6" cy="807.0" r="8.2"/><circle cx="1659.8" cy="817.4" r="8.2"/><circle cx="1727.7" cy="818.1" r="8.2"/><circle cx="1734.6" cy="818.1" r="8.2"/><circle cx="1738.8" cy="818.1" r="8.2"/><circle cx="1652.9" cy="832.7" r="8.2"/><circle cx="1663.3" cy="832.7" r="8.2"/><circle cx="1689.6" cy="832.4" r="8.2"/><circle cx="1700.7" cy="832.4" r="8.2"/><circle cx="1692.4" cy="834.7" r="8.2"/><circle cx="1563.5" cy="834.7" r="8.2"/><circle cx="1598.1" cy="849.3" r="8.2"/><circle cx="1627.9" cy="852.8" r="8.2"/><circle cx="1640.4" cy="852.1" r="8.2"/><circle cx="1645.9" cy="852.1" r="8.2"/><circle cx="1717.3" cy="852.1" r="8.2"/><circle cx="1600.9" cy="863.8" r="8.2"/><circle cx="1659.5" cy="863.8" r="8.2"/><circle cx="1677.8" cy="867.3" r="8.2"/><circle cx="1723.5" cy="864.5" r="8.2"/><circle cx="1761.0" cy="864.8" r="8.2"/><circle cx="1780.8" cy="864.8" r="8.2"/><circle cx="1814.0" cy="864.8" r="8.2"/><circle cx="1560.0" cy="872.2" r="8.2"/><circle cx="1704.1" cy="872.2" r="8.2"/><circle cx="1736.0" cy="872.2" r="8.2"/><circle cx="1614.1" cy="874.9" r="8.2"/><circle cx="1613.4" cy="886.0" r="8.2"/><circle cx="1637.6" cy="886.7" r="8.2"/><circle cx="1661.9" cy="885.3" r="8.2"/><circle cx="1747.1" cy="886.0" r="8.2"/><circle cx="1560.0" cy="889.5" r="8.2"/><circle cx="1682.7" cy="893.0" r="8.2"/><circle cx="1695.8" cy="893.0" r="8.2"/><circle cx="1716.6" cy="893.0" r="8.2"/><circle cx="1728.4" cy="893.0" r="8.2"/><circle cx="1650.1" cy="895.0" r="8.2"/><circle cx="1643.2" cy="900.6" r="8.2"/><circle cx="1657.0" cy="897.8" r="8.2"/><circle cx="1766.1" cy="901.0" r="8.2"/><circle cx="1597.4" cy="900.6" r="8.2"/><circle cx="1605.7" cy="900.6" r="8.2"/><circle cx="1611.3" cy="902.0" r="8.2"/><circle cx="1571.1" cy="912.4" r="8.2"/><circle cx="1584.9" cy="910.3" r="8.2"/><circle cx="1611.3" cy="913.0" r="8.2"/><circle cx="1657.7" cy="915.1" r="8.2"/><circle cx="1693.7" cy="913.0" r="8.2"/><circle cx="1675.0" cy="918.6" r="8.2"/><circle cx="1684.7" cy="918.6" r="8.2"/><circle cx="1737.1" cy="919.3" r="8.2"/><circle cx="1568.3" cy="926.9" r="8.2"/><circle cx="1587.7" cy="932.5" r="8.2"/><circle cx="1601.6" cy="925.5" r="8.2"/><circle cx="1621.0" cy="926.9" r="8.2"/><circle cx="1630.7" cy="929.0" r="8.2"/><circle cx="1642.9" cy="925.5" r="8.2"/><circle cx="1657.7" cy="929.7" r="8.2"/><circle cx="1669.5" cy="922.8" r="8.2"/><circle cx="1697.2" cy="930.4" r="8.2"/><circle cx="1721.2" cy="930.8" r="8.2"/><circle cx="1607.1" cy="936.6" r="8.2"/><circle cx="1619.6" cy="939.4" r="8.2"/><circle cx="1580.1" cy="945.6" r="8.2"/><circle cx="1595.3" cy="947.7" r="8.2"/><circle cx="1650.1" cy="944.9" r="8.2"/><circle cx="1657.0" cy="953.2" r="8.2"/><circle cx="1635.5" cy="954.6" r="8.2"/><circle cx="1677.8" cy="951.2" r="8.2"/><circle cx="1746.4" cy="960.2" r="8.2"/><circle cx="1565.5" cy="960.0" r="8.2"/><circle cx="1576.5" cy="960.0" r="8.2"/><circle cx="1587.5" cy="960.0" r="8.2"/><circle cx="1598.5" cy="960.0" r="8.2"/><circle cx="1609.5" cy="960.0" r="8.2"/><circle cx="1620.5" cy="960.0" r="8.2"/><circle cx="1560.0" cy="969.5" r="8.2"/><circle cx="1571.0" cy="969.5" r="8.2"/><circle cx="1582.0" cy="969.5" r="8.2"/><circle cx="1593.0" cy="969.5" r="8.2"/><circle cx="1604.0" cy="969.5" r="8.2"/><circle cx="1615.0" cy="969.5" r="8.2"/><circle cx="1626.0" cy="969.5" r="8.2"/><circle cx="1637.0" cy="969.5" r="8.2"/><circle cx="1565.5" cy="979.0" r="8.2"/><circle cx="1576.5" cy="979.0" r="8.2"/><circle cx="1587.5" cy="979.0" r="8.2"/><circle cx="1598.5" cy="979.0" r="8.2"/><circle cx="1609.5" cy="979.0" r="8.2"/><circle cx="1620.5" cy="979.0" r="8.2"/><circle cx="1631.5" cy="979.0" r="8.2"/><circle cx="1560.0" cy="988.6" r="8.2"/><circle cx="1571.0" cy="988.6" r="8.2"/><circle cx="1582.0" cy="988.6" r="8.2"/><circle cx="1593.0" cy="988.6" r="8.2"/><circle cx="1604.0" cy="988.6" r="8.2"/><circle cx="1565.5" cy="998.1" r="8.2"/><circle cx="1576.5" cy="998.1" r="8.2"/><circle cx="1587.5" cy="998.1" r="8.2"/><circle cx="1598.5" cy="998.1" r="8.2"/><circle cx="1651.5" cy="969.2" r="8.2"/><circle cx="1637.6" cy="978.2" r="8.2"/><circle cx="1632.8" cy="987.9" r="8.2"/><circle cx="1653.6" cy="987.9" r="8.2"/><circle cx="1662.6" cy="986.5" r="8.2"/><circle cx="1679.9" cy="987.2" r="8.2"/><circle cx="1669.5" cy="997.6" r="8.2"/><circle cx="1707.9" cy="995.9" r="8.2"/><circle cx="1724.2" cy="995.5" r="8.2"/><circle cx="1732.5" cy="995.5" r="8.2"/><circle cx="1594.6" cy="913.0" r="8.2"/><circle cx="1604.3" cy="918.6" r="8.2"/><circle cx="1612.7" cy="924.1" r="8.2"/><circle cx="1578.0" cy="920.0" r="8.2"/><circle cx="1594.6" cy="926.9" r="8.2"/><circle cx="1587.7" cy="921.4" r="8.2"/><circle cx="1663.3" cy="1011.8" r="8.2"/><circle cx="1680.6" cy="1008.6" r="8.2"/><circle cx="1601.6" cy="1002.8" r="8.2"/><circle cx="1593.3" cy="1008.3" r="8.2"/><circle cx="1578.0" cy="1008.3" r="8.2"/><circle cx="1560.0" cy="1011.1" r="8.2"/><circle cx="1597.4" cy="1017.3" r="8.2"/><circle cx="1573.9" cy="1024.3" r="8.2"/><circle cx="1588.4" cy="1025.6" r="8.2"/><circle cx="1617.5" cy="1023.1" r="8.2"/><circle cx="1589.1" cy="1036.7" r="8.2"/><circle cx="1615.2" cy="1040.9" r="8.2"/><circle cx="1560.0" cy="1031.9" r="8.2"/><circle cx="1566.9" cy="1040.2" r="8.2"/><circle cx="1572.5" cy="1045.7" r="8.2"/><circle cx="1571.8" cy="1047.8" r="8.2"/><circle cx="1604.3" cy="1052.0" r="8.2"/><circle cx="1594.6" cy="1056.8" r="8.2"/><circle cx="1673.6" cy="1043.9" r="8.2"/></g>
<line class="d" x1="1143.9" y1="1259.7" x2="1970.4" y2="715.1" stroke-dashoffset="-2.8"/>
<rect class="f" x="1143.9" y="715.1" width="826.5" height="544.6"/>
<line class="k" x1="1180.7" y1="1259.7" x2="1180.7" y2="1270.7"/><text class="t" x="1180.7" y="1301.2" text-anchor="middle">0</text>
<line class="k" x1="1395.4" y1="1259.7" x2="1395.4" y2="1270.7"/><text class="t" x="1395.4" y="1301.2" text-anchor="middle">100</text>
<line class="k" x1="1610.1" y1="1259.7" x2="1610.1" y2="1270.7"/><text class="t" x="1610.1" y="1301.2" text-anchor="middle">200</text>
<line class="k" x1="1824.8" y1="1259.7" x2="1824.8" y2="1270.7"/><text class="t" x="1824.8" y="1301.2" text-anchor="middle">300</text>
<line class="k" x1="1132.9" y1="1235.6" x2="1143.9" y2="1235.6"/><text class="t" x="1124.4" y="1246.9" text-anchor="end">0</text>
<line class="k" x1="1132.9" y1="1093.6" x2="1143.9" y2="1093.6"/><text class="t" x="1124.4" y="1104.9" text-anchor="end">100</text>
<line class="k" x1="1132.9" y1="951.7" x2="1143.9" y2="951.7"/><text class="t" x="1124.4" y="963.0" text-anchor="end">200</text>
<line class="k" x1="1132.9" y1="809.7" x2="1143.9" y2="809.7"/><text class="t" x="1124.4" y="821.0" text-anchor="end">300</text>
<text class="l" x="1557.2" y="1371.2" text-anchor="middle">Predicted Leaf (g/m²)</text>
<text class="l" transform="translate(1038.4 987.4) rotate(-90)" text-anchor="middle">Observed Leaf (g/m²)</text>
<text class="p" x="1188.9" y="756.5">d</text>
<text class="e" x="1196.4" y="1250.7">Y = X</text>
</g>
<g id="panel-e">
<g class="c" fill="#000"><circle cx="508.7" cy="1452.0" r="8.2"/><circle cx="564.0" cy="1460.6" r="8.2"/><circle cx="578.3" cy="1451.6" r="8.2"/><circle cx="586.0" cy="1449.3" r="8.2"/><circle cx="590.0" cy="1473.3" r="8.2"/><circle cx="584.4" cy="1510.4" r="8.2"/><circle cx="454.7" cy="1535.1" r="8.2"/><circle cx="518.3" cy="1545.2" r="8.2"/><circle cx="570.1" cy="1557.5" r="8.2"/><circle cx="574.9" cy="1571.0" r="8.2"/><circle cx="535.0" cy="1570.7" r="8.2"/><circle cx="541.2" cy="1571.0" r="8.2"/><circle cx="525.7" cy="1577.6" r="8.2"/><circle cx="516.3" cy="1588.0" r="8.2"/><circle cx="503.4" cy="1612.7" r="8.2"/><circle cx="543.6" cy="1612.7" r="8.2"/><circle cx="572.1" cy="1612.4" r="8.2"/><circle cx="586.0" cy="1612.4" r="8.2"/><circle cx="590.0" cy="1607.8" r="8.2"/><circle cx="522.6" cy="1627.9" r="8.2"/><circle cx="529.6" cy="1634.1" r="8.2"/><circle cx="565.9" cy="1627.9" r="8.2"/><circle cx="502.2" cy="1637.1" r="8.2"/><circle cx="552.0" cy="1639.5" r="8.2"/><circle cx="565.9" cy="1641.0" r="8.2"/><circle cx="582.1" cy="1635.6" r="8.2"/><circle cx="579.0" cy="1648.0" r="8.2"/><circle cx="497.1" cy="1647.7" r="8.2"/><circle cx="511.8" cy="1647.7" r="8.2"/><circle cx="526.5" cy="1647.7" r="8.2"/><circle cx="543.5" cy="1652.3" r="8.2"/><circle cx="464.3" cy="1664.5" r="8.2"/><circle cx="485.8" cy="1663.4" r="8.2"/><circle cx="509.8" cy="1664.2" r="8.2"/><circle cx="568.2" cy="1663.4" r="8.2"/><circle cx="586.0" cy="1668.1" r="8.2"/><circle cx="415.9" cy="1679.6" r="8.2"/><circle cx="438.8" cy="1675.4" r="8.2"/><circle cx="491.7" cy="1683.9" r="8.2"/><circle cx="513.3" cy="1676.2" r="8.2"/><circle cx="527.2" cy="1677.7" r="8.2"/><circle cx="544.2" cy="1677.7" r="8.2"/><circle cx="555.1" cy="1679.3" r="8.2"/><circle cx="570.5" cy="1670.0" r="8.2"/><circle cx="578.3" cy="1677.7" r="8.2"/><circle cx="386.1" cy="1707.9" r="8.2"/><circle cx="487.8" cy="1707.1" r="8.2"/><circle cx="497.9" cy="1700.9" r="8.2"/><circle cx="513.3" cy="1711.7" r="8.2"/><circle cx="522.6" cy="1708.6" r="8.2"/><circle cx="547.3" cy="1697.8" r="8.2"/><circle cx="550.4" cy="1710.2" r="8.2"/><circle cx="562.8" cy="1700.9" r="8.2"/><circle cx="575.2" cy="1693.2" r="8.2"/><circle cx="586.0" cy="1699.4" r="8.2"/><circle cx="318.2" cy="1724.4" r="8.2"/><circle cx="443.5" cy="1723.3" r="8.2"/><circle cx="437.6" cy="1734.9" r="8.2"/><circle cx="401.6" cy="1735.7" r="8.2"/><circle cx="473.1" cy="1735.7" r="8.2"/><circle cx="480.1" cy="1729.5" r="8.2"/><circle cx="490.1" cy="1729.5" r="8.2"/><circle cx="504.1" cy="1727.2" r="8.2"/><circle cx="550.5" cy="1687.3" r="8.2"/><circle cx="561.5" cy="1687.3" r="8.2"/><circle cx="572.5" cy="1687.3" r="8.2"/><circle cx="545.0" cy="1696.8" r="8.2"/><circle cx="556.0" cy="1696.8" r="8.2"/><circle cx="567.0" cy="1696.8" r="8.2"/><circle cx="578.0" cy="1696.8" r="8.2"/><circle cx="589.0" cy="1696.8" r="8.2"/><circle cx="550.5" cy="1706.3" r="8.2"/><circle cx="572.5" cy="1706.3" r="8.2"/><circle cx="583.5" cy="1706.3" r="8.2"/><circle cx="523.0" cy="1715.8" r="8.2"/><circle cx="534.0" cy="1715.8" r="8.2"/><circle cx="545.0" cy="1715.8" r="8.2"/><circle cx="556.0" cy="1715.8" r="8.2"/><circle cx="567.0" cy="1715.8" r="8.2"/><circle cx="578.0" cy="1715.8" r="8.2"/><circle cx="589.0" cy="1715.8" r="8.2"/><circle cx="506.5" cy="1725.4" r="8.2"/><circle cx="517.5" cy="1725.4" r="8.2"/><circle cx="528.5" cy="1725.4" r="8.2"/><circle cx="539.5" cy="1725.4" r="8.2"/><circle cx="550.5" cy="1725.4" r="8.2"/><circle cx="561.5" cy="1725.4" r="8.2"/><circle cx="572.5" cy="1725.4" r="8.2"/><circle cx="583.5" cy="1725.4" r="8.2"/><circle cx="512.0" cy="1734.9" r="8.2"/><circle cx="534.0" cy="1734.9" r="8.2"/><circle cx="545.0" cy="1734.9" r="8.2"/><circle cx="556.0" cy="1734.9" r="8.2"/><circle cx="567.0" cy="1734.9" r="8.2"/><circle cx="578.0" cy="1734.9" r="8.2"/><circle cx="589.0" cy="1734.9" r="8.2"/><circle cx="506.5" cy="1744.4" r="8.2"/><circle cx="517.5" cy="1744.4" r="8.2"/><circle cx="528.5" cy="1744.4" r="8.2"/><circle cx="539.5" cy="1744.4" r="8.2"/><circle cx="550.5" cy="1744.4" r="8.2"/><circle cx="561.5" cy="1744.4" r="8.2"/><circle cx="572.5" cy="1744.4" r="8.2"/><circle cx="583.5" cy="1744.4" r="8.2"/><circle cx="502.5" cy="1747.3" r="8.2"/><circle cx="516.4" cy="1728.7" r="8.2"/><circle cx="528.8" cy="1730.3" r="8.2"/><circle cx="541.2" cy="1736.5" r="8.2"/><circle cx="559.7" cy="1747.3" r="8.2"/><circle cx="573.6" cy="1741.1" r="8.2"/><circle cx="586.0" cy="1738.0" r="8.2"/><circle cx="565.9" cy="1724.1" r="8.2"/><circle cx="383.5" cy="1753.5" r="8.2"/><circle cx="389.7" cy="1756.6" r="8.2"/><circle cx="400.5" cy="1751.9" r="8.2"/><circle cx="408.2" cy="1759.7" r="8.2"/><circle cx="438.0" cy="1758.4" r="8.2"/><circle cx="471.3" cy="1756.3" r="8.2"/><circle cx="522.6" cy="1756.6" r="8.2"/><circle cx="524.1" cy="1767.4" r="8.2"/><circle cx="541.2" cy="1767.4" r="8.2"/><circle cx="553.5" cy="1767.4" r="8.2"/><circle cx="544.2" cy="1758.1" r="8.2"/><circle cx="371.9" cy="1773.6" r="8.2"/><circle cx="385.8" cy="1775.1" r="8.2"/><circle cx="397.4" cy="1773.6" r="8.2"/><circle cx="372.7" cy="1781.3" r="8.2"/><circle cx="385.0" cy="1782.8" r="8.2"/><circle cx="415.6" cy="1781.0" r="8.2"/><circle cx="454.6" cy="1785.2" r="8.2"/><circle cx="446.1" cy="1792.1" r="8.2"/><circle cx="488.3" cy="1779.8" r="8.2"/><circle cx="502.5" cy="1781.3" r="8.2"/><circle cx="513.3" cy="1779.8" r="8.2"/><circle cx="507.9" cy="1789.0" r="8.2"/><circle cx="519.5" cy="1789.0" r="8.2"/><circle cx="531.9" cy="1789.0" r="8.2"/><circle cx="548.9" cy="1789.0" r="8.2"/><circle cx="564.3" cy="1779.8" r="8.2"/><circle cx="569.0" cy="1787.5" r="8.2"/><circle cx="572.8" cy="1793.7" r="8.2"/><circle cx="586.0" cy="1789.0" r="8.2"/><circle cx="366.5" cy="1800.6" r="8.2"/><circle cx="380.4" cy="1801.4" r="8.2"/><circle cx="389.7" cy="1793.7" r="8.2"/><circle cx="403.6" cy="1796.0" r="8.2"/><circle cx="420.6" cy="1793.7" r="8.2"/><circle cx="428.3" cy="1801.4" r="8.2"/><circle cx="419.0" cy="1808.4" r="8.2"/><circle cx="426.8" cy="1809.1" r="8.2"/><circle cx="443.8" cy="1802.9" r="8.2"/><circle cx="454.6" cy="1798.3" r="8.2"/><circle cx="476.2" cy="1799.9" r="8.2"/><circle cx="555.1" cy="1798.3" r="8.2"/><circle cx="547.3" cy="1802.9" r="8.2"/><circle cx="535.0" cy="1806.0" r="8.2"/><circle cx="520.3" cy="1807.6" r="8.2"/><circle cx="508.7" cy="1814.5" r="8.2"/><circle cx="496.6" cy="1814.5" r="8.2"/><circle cx="377.3" cy="1810.7" r="8.2"/><circle cx="383.5" cy="1815.3" r="8.2"/><circle cx="392.8" cy="1809.1" r="8.2"/><circle cx="400.5" cy="1815.3" r="8.2"/><circle cx="461.8" cy="1814.5" r="8.2"/><circle cx="392.8" cy="1827.7" r="8.2"/><circle cx="400.5" cy="1829.2" r="8.2"/><circle cx="408.2" cy="1829.2" r="8.2"/><circle cx="429.1" cy="1829.2" r="8.2"/><circle cx="450.7" cy="1834.2" r="8.2"/><circle cx="463.1" cy="1834.2" r="8.2"/><circle cx="432.6" cy="1841.6" r="8.2"/><circle cx="524.1" cy="1831.8" r="8.2"/><circle cx="550.4" cy="1827.7" r="8.2"/><circle cx="559.7" cy="1824.6" r="8.2"/><circle cx="561.2" cy="1829.2" r="8.2"/><circle cx="590.0" cy="1824.6" r="8.2"/><circle cx="486.7" cy="1841.6" r="8.2"/><circle cx="392.8" cy="1844.7" r="8.2"/><circle cx="405.1" cy="1844.7" r="8.2"/><circle cx="388.1" cy="1857.8" r="8.2"/><circle cx="400.5" cy="1857.8" r="8.2"/><circle cx="405.1" cy="1857.8" r="8.2"/><circle cx="415.9" cy="1854.0" r="8.2"/><circle cx="423.7" cy="1854.0" r="8.2"/><circle cx="469.0" cy="1856.6" r="8.2"/><circle cx="475.5" cy="1865.5" r="8.2"/><circle cx="590.0" cy="1856.6" r="8.2"/><circle cx="466.3" cy="1893.8" r="8.2"/><circle cx="452.6" cy="1904.5" r="8.2"/><circle cx="479.6" cy="1904.5" r="8.2"/><circle cx="626.5" cy="1460.6" r="8.2"/><circle cx="654.2" cy="1448.9" r="8.2"/><circle cx="654.2" cy="1460.9" r="8.2"/><circle cx="685.1" cy="1452.4" r="8.2"/><circle cx="691.3" cy="1460.1" r="8.2"/><circle cx="708.7" cy="1448.6" r="8.2"/><circle cx="713.7" cy="1453.2" r="8.2"/><circle cx="719.9" cy="1459.4" r="8.2"/><circle cx="710.6" cy="1464.0" r="8.2"/><circle cx="735.3" cy="1463.2" r="8.2"/><circle cx="743.0" cy="1460.1" r="8.2"/><circle cx="747.7" cy="1465.6" r="8.2"/><circle cx="756.2" cy="1464.0" r="8.2"/><circle cx="769.3" cy="1452.7" r="8.2"/><circle cx="815.7" cy="1464.3" r="8.2"/><circle cx="861.3" cy="1452.4" r="8.2"/><circle cx="669.6" cy="1475.6" r="8.2"/><circle cx="680.4" cy="1471.7" r="8.2"/><circle cx="690.5" cy="1476.4" r="8.2"/><circle cx="699.8" cy="1476.4" r="8.2"/><circle cx="747.7" cy="1477.1" r="8.2"/><circle cx="729.1" cy="1488.4" r="8.2"/><circle cx="674.2" cy="1500.3" r="8.2"/><circle cx="685.8" cy="1500.3" r="8.2"/><circle cx="673.5" cy="1510.4" r="8.2"/><circle cx="679.7" cy="1514.2" r="8.2"/><circle cx="693.6" cy="1510.4" r="8.2"/><circle cx="701.3" cy="1511.2" r="8.2"/><circle cx="707.5" cy="1514.2" r="8.2"/><circle cx="644.9" cy="1513.5" r="8.2"/><circle cx="650.3" cy="1514.7" r="8.2"/><circle cx="721.4" cy="1510.4" r="8.2"/><circle cx="727.6" cy="1512.7" r="8.2"/><circle cx="738.4" cy="1511.9" r="8.2"/><circle cx="751.5" cy="1506.5" r="8.2"/><circle cx="739.2" cy="1524.3" r="8.2"/><circle cx="794.1" cy="1509.6" r="8.2"/><circle cx="799.5" cy="1518.1" r="8.2"/><circle cx="823.4" cy="1501.1" r="8.2"/><circle cx="590.0" cy="1510.4" r="8.2"/><circle cx="629.4" cy="1534.3" r="8.2"/><circle cx="648.0" cy="1532.0" r="8.2"/><circle cx="657.2" cy="1534.3" r="8.2"/><circle cx="640.7" cy="1545.9" r="8.2"/><circle cx="704.4" cy="1533.6" r="8.2"/><circle cx="716.8" cy="1532.0" r="8.2"/><circle cx="726.8" cy="1535.1" r="8.2"/><circle cx="750.0" cy="1535.9" r="8.2"/><circle cx="761.6" cy="1532.0" r="8.2"/><circle cx="599.0" cy="1540.5" r="8.2"/><circle cx="600.0" cy="1558.3" r="8.2"/><circle cx="673.5" cy="1549.8" r="8.2"/><circle cx="685.8" cy="1555.2" r="8.2"/><circle cx="696.7" cy="1555.2" r="8.2"/><circle cx="715.2" cy="1550.6" r="8.2"/><circle cx="722.9" cy="1555.2" r="8.2"/><circle cx="737.9" cy="1550.6" r="8.2"/><circle cx="738.4" cy="1558.3" r="8.2"/><circle cx="665.1" cy="1566.3" r="8.2"/><circle cx="676.1" cy="1566.3" r="8.2"/><circle cx="687.1" cy="1566.3" r="8.2"/><circle cx="698.1" cy="1566.3" r="8.2"/><circle cx="709.1" cy="1566.3" r="8.2"/><circle cx="720.1" cy="1566.3" r="8.2"/><circle cx="731.1" cy="1566.3" r="8.2"/><circle cx="742.1" cy="1566.3" r="8.2"/><circle cx="670.6" cy="1575.8" r="8.2"/><circle cx="681.6" cy="1575.8" r="8.2"/><circle cx="692.6" cy="1575.8" r="8.2"/><circle cx="703.6" cy="1575.8" r="8.2"/><circle cx="714.6" cy="1575.8" r="8.2"/><circle cx="725.6" cy="1575.8" r="8.2"/><circle cx="736.6" cy="1575.8" r="8.2"/><circle cx="665.1" cy="1585.3" r="8.2"/><circle cx="676.1" cy="1585.3" r="8.2"/><circle cx="687.1" cy="1585.3" r="8.2"/><circle cx="670.6" cy="1594.9" r="8.2"/><circle cx="681.6" cy="1594.9" r="8.2"/><circle cx="613.2" cy="1569.9" r="8.2"/><circle cx="619.4" cy="1569.9" r="8.2"/><circle cx="643.3" cy="1566.0" r="8.2"/><circle cx="641.0" cy="1569.9" r="8.2"/><circle cx="670.4" cy="1567.6" r="8.2"/><circle cx="750.8" cy="1569.1" r="8.2"/><circle cx="744.6" cy="1578.4" r="8.2"/><circle cx="651.8" cy="1579.9" r="8.2"/><circle cx="620.1" cy="1590.0" r="8.2"/><circle cx="634.1" cy="1590.8" r="8.2"/><circle cx="641.0" cy="1589.2" r="8.2"/><circle cx="631.7" cy="1598.5" r="8.2"/><circle cx="752.3" cy="1590.8" r="8.2"/><circle cx="757.0" cy="1597.0" r="8.2"/><circle cx="777.0" cy="1591.1" r="8.2"/><circle cx="803.8" cy="1580.7" r="8.2"/><circle cx="803.8" cy="1585.4" r="8.2"/><circle cx="644.1" cy="1606.2" r="8.2"/><circle cx="651.8" cy="1614.0" r="8.2"/><circle cx="656.5" cy="1598.5" r="8.2"/><circle cx="667.3" cy="1603.1" r="8.2"/><circle cx="673.5" cy="1607.8" r="8.2"/><circle cx="685.8" cy="1606.2" r="8.2"/><circle cx="718.3" cy="1597.0" r="8.2"/><circle cx="710.6" cy="1607.8" r="8.2"/><circle cx="702.8" cy="1618.6" r="8.2"/><circle cx="747.7" cy="1606.2" r="8.2"/><circle cx="735.3" cy="1614.0" r="8.2"/><circle cx="743.0" cy="1620.1" r="8.2"/><circle cx="590.0" cy="1609.3" r="8.2"/><circle cx="604.7" cy="1627.9" r="8.2"/><circle cx="613.2" cy="1629.4" r="8.2"/><circle cx="620.9" cy="1635.6" r="8.2"/><circle cx="600.8" cy="1640.2" r="8.2"/><circle cx="605.5" cy="1640.2" r="8.2"/><circle cx="642.6" cy="1631.0" r="8.2"/><circle cx="636.4" cy="1637.1" r="8.2"/><circle cx="664.2" cy="1631.0" r="8.2"/><circle cx="685.8" cy="1627.9" r="8.2"/><circle cx="710.6" cy="1631.0" r="8.2"/><circle cx="731.4" cy="1631.0" r="8.2"/><circle cx="726.0" cy="1637.1" r="8.2"/><circle cx="750.8" cy="1634.1" r="8.2"/><circle cx="752.3" cy="1641.0" r="8.2"/><circle cx="813.8" cy="1634.8" r="8.2"/><circle cx="675.9" cy="1635.6" r="8.2"/><circle cx="697.9" cy="1635.6" r="8.2"/><circle cx="637.4" cy="1645.1" r="8.2"/><circle cx="648.4" cy="1645.1" r="8.2"/><circle cx="659.4" cy="1645.1" r="8.2"/><circle cx="670.4" cy="1645.1" r="8.2"/><circle cx="681.4" cy="1645.1" r="8.2"/><circle cx="692.4" cy="1645.1" r="8.2"/><circle cx="703.4" cy="1645.1" r="8.2"/><circle cx="714.4" cy="1645.1" r="8.2"/><circle cx="631.9" cy="1654.6" r="8.2"/><circle cx="642.9" cy="1654.6" r="8.2"/><circle cx="653.9" cy="1654.6" r="8.2"/><circle cx="675.9" cy="1654.6" r="8.2"/><circle cx="686.9" cy="1654.6" r="8.2"/><circle cx="697.9" cy="1654.6" r="8.2"/><circle cx="626.4" cy="1664.2" r="8.2"/><circle cx="637.4" cy="1664.2" r="8.2"/><circle cx="648.4" cy="1664.2" r="8.2"/><circle cx="771.6" cy="1647.2" r="8.2"/><circle cx="741.5" cy="1654.1" r="8.2"/><circle cx="735.3" cy="1661.9" r="8.2"/><circle cx="736.1" cy="1667.3" r="8.2"/><circle cx="594.6" cy="1661.9" r="8.2"/><circle cx="602.4" cy="1666.5" r="8.2"/><circle cx="710.6" cy="1671.2" r="8.2"/><circle cx="718.3" cy="1671.2" r="8.2"/><circle cx="735.3" cy="1670.0" r="8.2"/><circle cx="710.6" cy="1671.5" r="8.2"/><circle cx="718.3" cy="1671.5" r="8.2"/><circle cx="590.0" cy="1670.0" r="8.2"/><circle cx="612.0" cy="1670.0" r="8.2"/><circle cx="645.0" cy="1670.0" r="8.2"/><circle cx="678.0" cy="1670.0" r="8.2"/><circle cx="606.5" cy="1679.5" r="8.2"/><circle cx="617.5" cy="1679.5" r="8.2"/><circle cx="639.5" cy="1679.5" r="8.2"/><circle cx="650.5" cy="1679.5" r="8.2"/><circle cx="672.5" cy="1679.5" r="8.2"/><circle cx="683.5" cy="1679.5" r="8.2"/><circle cx="694.5" cy="1679.5" r="8.2"/><circle cx="590.0" cy="1689.1" r="8.2"/><circle cx="601.0" cy="1689.1" r="8.2"/><circle cx="612.0" cy="1689.1" r="8.2"/><circle cx="623.0" cy="1689.1" r="8.2"/><circle cx="634.0" cy="1689.1" r="8.2"/><circle cx="645.0" cy="1689.1" r="8.2"/><circle cx="656.0" cy="1689.1" r="8.2"/><circle cx="667.0" cy="1689.1" r="8.2"/><circle cx="678.0" cy="1689.1" r="8.2"/><circle cx="689.0" cy="1689.1" r="8.2"/><circle cx="606.5" cy="1698.6" r="8.2"/><circle cx="617.5" cy="1698.6" r="8.2"/><circle cx="628.5" cy="1698.6" r="8.2"/><circle cx="699.8" cy="1685.5" r="8.2"/><circle cx="684.3" cy="1691.6" r="8.2"/><circle cx="681.2" cy="1700.1" r="8.2"/><circle cx="667.3" cy="1685.5" r="8.2"/><circle cx="654.9" cy="1692.4" r="8.2"/><circle cx="644.1" cy="1694.7" r="8.2"/><circle cx="633.3" cy="1697.8" r="8.2"/><circle cx="617.8" cy="1700.1" r="8.2"/><circle cx="608.6" cy="1700.9" r="8.2"/><circle cx="594.6" cy="1693.2" r="8.2"/><circle cx="783.2" cy="1691.6" r="8.2"/><circle cx="685.4" cy="1714.4" r="8.2"/><circle cx="636.8" cy="1715.9" r="8.2"/><circle cx="598.0" cy="1717.9" r="8.2"/><circle cx="590.0" cy="1730.3" r="8.2"/><circle cx="614.0" cy="1730.3" r="8.2"/><circle cx="623.2" cy="1730.3" r="8.2"/><circle cx="653.1" cy="1731.1" r="8.2"/><circle cx="610.1" cy="1738.0" r="8.2"/><circle cx="617.8" cy="1742.7" r="8.2"/><circle cx="611.6" cy="1750.4" r="8.2"/><circle cx="616.3" cy="1751.9" r="8.2"/><circle cx="597.7" cy="1751.2" r="8.2"/><circle cx="610.9" cy="1759.7" r="8.2"/><circle cx="639.2" cy="1745.7" r="8.2"/><circle cx="636.1" cy="1755.8" r="8.2"/><circle cx="651.4" cy="1760.0" r="8.2"/><circle cx="676.1" cy="1763.1" r="8.2"/><circle cx="703.2" cy="1746.2" r="8.2"/><circle cx="718.3" cy="1760.0" r="8.2"/><circle cx="723.7" cy="1760.0" r="8.2"/><circle cx="590.0" cy="1789.0" r="8.2"/><circle cx="617.1" cy="1798.6" r="8.2"/><circle cx="641.8" cy="1792.9" r="8.2"/><circle cx="598.5" cy="1818.4" r="8.2"/><circle cx="593.1" cy="1824.6" r="8.2"/><circle cx="612.7" cy="1850.4" r="8.2"/><circle cx="590.0" cy="1856.6" r="8.2"/><circle cx="512.9" cy="1710.2" r="8.2"/><circle cx="523.5" cy="1707.8" r="8.2"/><circle cx="524.6" cy="1692.6" r="8.2"/><circle cx="543.4" cy="1698.4" r="8.2"/><circle cx="524.0" cy="1692.0" r="8.2"/><circle cx="549.3" cy="1698.4" r="8.2"/><circle cx="544.6" cy="1712.5" r="8.2"/><circle cx="523.5" cy="1707.8" r="8.2"/><circle cx="512.9" cy="1710.2" r="8.2"/><circle cx="716.2" cy="1581.3" r="8.2"/><circle cx="724.4" cy="1586.0" r="8.2"/><circle cx="710.4" cy="1587.1" r="8.2"/><circle cx="705.7" cy="1576.6" r="8.2"/></g>
<line class="d" x1="143.4" y1="1965.7" x2="969.9" y2="1421.1" stroke-dashoffset="-2.8"/>
<rect class="f" x="143.4" y="1421.1" width="826.5" height="544.6"/>
<line class="k" x1="255.4" y1="1965.7" x2="255.4" y2="1976.7"/><text class="t" x="255.4" y="2007.2" text-anchor="middle">100</text>
<line class="k" x1="405.8" y1="1965.7" x2="405.8" y2="1976.7"/><text class="t" x="405.8" y="2007.2" text-anchor="middle">200</text>
<line class="k" x1="556.2" y1="1965.7" x2="556.2" y2="1976.7"/><text class="t" x="556.2" y="2007.2" text-anchor="middle">300</text>
<line class="k" x1="706.6" y1="1965.7" x2="706.6" y2="1976.7"/><text class="t" x="706.6" y="2007.2" text-anchor="middle">400</text>
<line class="k" x1="857.0" y1="1965.7" x2="857.0" y2="1976.7"/><text class="t" x="857.0" y="2007.2" text-anchor="middle">500</text>
<line class="k" x1="132.4" y1="1892.3" x2="143.4" y2="1892.3"/><text class="t" x="123.9" y="1903.6" text-anchor="end">100</text>
<line class="k" x1="132.4" y1="1793.0" x2="143.4" y2="1793.0"/><text class="t" x="123.9" y="1804.2" text-anchor="end">200</text>
<line class="k" x1="132.4" y1="1693.6" x2="143.4" y2="1693.6"/><text class="t" x="123.9" y="1704.9" text-anchor="end">300</text>
<line class="k" x1="132.4" y1="1594.2" x2="143.4" y2="1594.2"/><text class="t" x="123.9" y="1605.5" text-anchor="end">400</text>
<line class="k" x1="132.4" y1="1494.9" x2="143.4" y2="1494.9"/><text class="t" x="123.9" y="1506.2" text-anchor="end">500</text>
<text class="l" x="556.6" y="2077.2" text-anchor="middle">Predicted Green (g/m²)</text>
<text class="l" transform="translate(37.9 1693.4) rotate(-90)" text-anchor="middle">Observed Green (g/m²)</text>
<text class="p" x="188.8" y="1462.5">e</text>
<text class="e" x="206.3" y="1955.9">Y = X</text>
</g>
<g id="panel-f">
<g class="c" fill="#000"><circle cx="1475.7" cy="1452.0" r="8.2"/><circle cx="1531.8" cy="1452.0" r="8.2"/><circle cx="1542.9" cy="1571.3" r="8.2"/><circle cx="1559.4" cy="1570.5" r="8.2"/><circle cx="1567.7" cy="1575.4" r="8.2"/><circle cx="1566.1" cy="1587.8" r="8.2"/><circle cx="1495.7" cy="1612.6" r="8.2"/><circle cx="1540.4" cy="1612.6" r="8.2"/><circle cx="1557.8" cy="1612.6" r="8.2"/><circle cx="1572.0" cy="1612.6" r="8.2"/><circle cx="1466.1" cy="1664.2" r="8.2"/><circle cx="1474.8" cy="1675.8" r="8.2"/><circle cx="1421.6" cy="1707.7" r="8.2"/><circle cx="1476.3" cy="1707.7" r="8.2"/><circle cx="1287.8" cy="1724.2" r="8.2"/><circle cx="1452.9" cy="1729.5" r="8.2"/><circle cx="1467.7" cy="1729.5" r="8.2"/><circle cx="1402.5" cy="1736.1" r="8.2"/><circle cx="1412.4" cy="1736.9" r="8.2"/><circle cx="1430.6" cy="1736.1" r="8.2"/><circle cx="1436.3" cy="1734.4" r="8.2"/><circle cx="1453.7" cy="1736.1" r="8.2"/><circle cx="1460.3" cy="1737.8" r="8.2"/><circle cx="1478.5" cy="1739.4" r="8.2"/><circle cx="1476.8" cy="1746.0" r="8.2"/><circle cx="1397.5" cy="1752.6" r="8.2"/><circle cx="1403.3" cy="1752.6" r="8.2"/><circle cx="1402.5" cy="1760.9" r="8.2"/><circle cx="1441.8" cy="1752.1" r="8.2"/><circle cx="1365.3" cy="1758.4" r="8.2"/><circle cx="1367.8" cy="1767.5" r="8.2"/><circle cx="1358.7" cy="1774.1" r="8.2"/><circle cx="1367.8" cy="1774.9" r="8.2"/><circle cx="1406.6" cy="1774.9" r="8.2"/><circle cx="1399.2" cy="1780.7" r="8.2"/><circle cx="1386.8" cy="1785.7" r="8.2"/><circle cx="1417.3" cy="1782.4" r="8.2"/><circle cx="1430.6" cy="1789.0" r="8.2"/><circle cx="1476.8" cy="1779.9" r="8.2"/><circle cx="1475.2" cy="1785.7" r="8.2"/><circle cx="1357.8" cy="1796.4" r="8.2"/><circle cx="1369.4" cy="1796.4" r="8.2"/><circle cx="1364.5" cy="1802.2" r="8.2"/><circle cx="1377.7" cy="1798.9" r="8.2"/><circle cx="1389.2" cy="1803.8" r="8.2"/><circle cx="1377.7" cy="1807.2" r="8.2"/><circle cx="1402.5" cy="1797.2" r="8.2"/><circle cx="1415.7" cy="1798.9" r="8.2"/><circle cx="1427.2" cy="1802.2" r="8.2"/><circle cx="1442.1" cy="1800.5" r="8.2"/><circle cx="1458.6" cy="1798.9" r="8.2"/><circle cx="1471.9" cy="1797.2" r="8.2"/><circle cx="1400.8" cy="1810.5" r="8.2"/><circle cx="1414.0" cy="1810.5" r="8.2"/><circle cx="1427.2" cy="1810.5" r="8.2"/><circle cx="1440.5" cy="1810.5" r="8.2"/><circle cx="1452.0" cy="1810.5" r="8.2"/><circle cx="1466.9" cy="1807.2" r="8.2"/><circle cx="1399.2" cy="1815.4" r="8.2"/><circle cx="1414.0" cy="1815.4" r="8.2"/><circle cx="1435.5" cy="1815.4" r="8.2"/><circle cx="1452.0" cy="1815.4" r="8.2"/><circle cx="1342.1" cy="1834.4" r="8.2"/><circle cx="1369.9" cy="1827.0" r="8.2"/><circle cx="1388.4" cy="1827.0" r="8.2"/><circle cx="1394.2" cy="1828.6" r="8.2"/><circle cx="1402.5" cy="1829.5" r="8.2"/><circle cx="1419.0" cy="1831.9" r="8.2"/><circle cx="1433.9" cy="1827.0" r="8.2"/><circle cx="1437.2" cy="1829.5" r="8.2"/><circle cx="1473.5" cy="1829.5" r="8.2"/><circle cx="1478.5" cy="1825.3" r="8.2"/><circle cx="1484.3" cy="1827.8" r="8.2"/><circle cx="1538.3" cy="1824.8" r="8.2"/><circle cx="1554.2" cy="1834.4" r="8.2"/><circle cx="1273.9" cy="1841.9" r="8.2"/><circle cx="1284.0" cy="1844.7" r="8.2"/><circle cx="1438.3" cy="1844.3" r="8.2"/><circle cx="1437.2" cy="1855.1" r="8.2"/><circle cx="1518.1" cy="1841.9" r="8.2"/><circle cx="1333.6" cy="1852.6" r="8.2"/><circle cx="1366.4" cy="1852.6" r="8.2"/><circle cx="1380.2" cy="1858.4" r="8.2"/><circle cx="1387.6" cy="1855.9" r="8.2"/><circle cx="1399.2" cy="1856.7" r="8.2"/><circle cx="1416.0" cy="1858.4" r="8.2"/><circle cx="1487.2" cy="1850.1" r="8.2"/><circle cx="1485.1" cy="1856.7" r="8.2"/><circle cx="1457.5" cy="1865.5" r="8.2"/><circle cx="1431.0" cy="1893.6" r="8.2"/><circle cx="1434.2" cy="1904.6" r="8.2"/><circle cx="1525.6" cy="1904.3" r="8.2"/><circle cx="1668.3" cy="1448.5" r="8.2"/><circle cx="1643.9" cy="1460.6" r="8.2"/><circle cx="1669.5" cy="1462.2" r="8.2"/><circle cx="1698.9" cy="1449.0" r="8.2"/><circle cx="1690.6" cy="1473.8" r="8.2"/><circle cx="1705.8" cy="1464.7" r="8.2"/><circle cx="1712.5" cy="1459.7" r="8.2"/><circle cx="1725.7" cy="1452.3" r="8.2"/><circle cx="1720.7" cy="1459.7" r="8.2"/><circle cx="1748.8" cy="1448.2" r="8.2"/><circle cx="1757.9" cy="1452.3" r="8.2"/><circle cx="1737.2" cy="1463.0" r="8.2"/><circle cx="1747.2" cy="1463.0" r="8.2"/><circle cx="1762.0" cy="1464.7" r="8.2"/><circle cx="1721.5" cy="1476.3" r="8.2"/><circle cx="1736.4" cy="1477.1" r="8.2"/><circle cx="1780.5" cy="1463.0" r="8.2"/><circle cx="1781.5" cy="1472.1" r="8.2"/><circle cx="1809.6" cy="1460.6" r="8.2"/><circle cx="1804.7" cy="1477.1" r="8.2"/><circle cx="1763.4" cy="1488.2" r="8.2"/><circle cx="1718.2" cy="1501.1" r="8.2"/><circle cx="1729.8" cy="1501.1" r="8.2"/><circle cx="1769.5" cy="1506.8" r="8.2"/><circle cx="1778.6" cy="1511.0" r="8.2"/><circle cx="1870.6" cy="1501.4" r="8.2"/><circle cx="1643.4" cy="1514.3" r="8.2"/><circle cx="1654.6" cy="1514.3" r="8.2"/><circle cx="1664.5" cy="1514.3" r="8.2"/><circle cx="1677.8" cy="1511.0" r="8.2"/><circle cx="1691.0" cy="1511.0" r="8.2"/><circle cx="1697.6" cy="1512.6" r="8.2"/><circle cx="1705.8" cy="1511.0" r="8.2"/><circle cx="1724.0" cy="1514.3" r="8.2"/><circle cx="1738.9" cy="1511.0" r="8.2"/><circle cx="1750.5" cy="1511.0" r="8.2"/><circle cx="1752.9" cy="1519.2" r="8.2"/><circle cx="1730.6" cy="1524.2" r="8.2"/><circle cx="1846.3" cy="1511.0" r="8.2"/><circle cx="1854.2" cy="1519.2" r="8.2"/><circle cx="1634.8" cy="1534.1" r="8.2"/><circle cx="1644.7" cy="1539.9" r="8.2"/><circle cx="1681.1" cy="1530.8" r="8.2"/><circle cx="1693.5" cy="1532.5" r="8.2"/><circle cx="1712.1" cy="1532.8" r="8.2"/><circle cx="1744.4" cy="1535.3" r="8.2"/><circle cx="1765.3" cy="1534.9" r="8.2"/><circle cx="1777.7" cy="1531.6" r="8.2"/><circle cx="1797.2" cy="1535.3" r="8.2"/><circle cx="1828.1" cy="1534.9" r="8.2"/><circle cx="1600.9" cy="1546.2" r="8.2"/><circle cx="1618.8" cy="1544.5" r="8.2"/><circle cx="1663.7" cy="1550.6" r="8.2"/><circle cx="1667.0" cy="1555.6" r="8.2"/><circle cx="1637.3" cy="1557.2" r="8.2"/><circle cx="1656.3" cy="1558.9" r="8.2"/><circle cx="1688.5" cy="1558.9" r="8.2"/><circle cx="1724.0" cy="1550.6" r="8.2"/><circle cx="1730.6" cy="1550.6" r="8.2"/><circle cx="1740.6" cy="1555.6" r="8.2"/><circle cx="1748.8" cy="1555.6" r="8.2"/><circle cx="1768.3" cy="1554.8" r="8.2"/><circle cx="1786.8" cy="1557.7" r="8.2"/><circle cx="1843.0" cy="1561.9" r="8.2"/><circle cx="1714.1" cy="1560.5" r="8.2"/><circle cx="1710.8" cy="1567.2" r="8.2"/><circle cx="1629.0" cy="1571.3" r="8.2"/><circle cx="1643.1" cy="1570.5" r="8.2"/><circle cx="1661.2" cy="1573.8" r="8.2"/><circle cx="1671.1" cy="1572.1" r="8.2"/><circle cx="1687.7" cy="1570.5" r="8.2"/><circle cx="1700.9" cy="1570.5" r="8.2"/><circle cx="1715.8" cy="1575.4" r="8.2"/><circle cx="1768.6" cy="1567.2" r="8.2"/><circle cx="1827.3" cy="1569.3" r="8.2"/><circle cx="1745.5" cy="1573.8" r="8.2"/><circle cx="1595.1" cy="1575.4" r="8.2"/><circle cx="1609.2" cy="1575.4" r="8.2"/><circle cx="1572.0" cy="1577.1" r="8.2"/><circle cx="1747.2" cy="1581.2" r="8.2"/><circle cx="1769.5" cy="1580.0" r="8.2"/><circle cx="1778.6" cy="1580.0" r="8.2"/><circle cx="1808.3" cy="1579.5" r="8.2"/><circle cx="1823.2" cy="1584.5" r="8.2"/><circle cx="1719.1" cy="1580.4" r="8.2"/><circle cx="1626.5" cy="1589.5" r="8.2"/><circle cx="1638.1" cy="1588.6" r="8.2"/><circle cx="1651.3" cy="1588.6" r="8.2"/><circle cx="1666.2" cy="1589.5" r="8.2"/><circle cx="1677.8" cy="1582.0" r="8.2"/><circle cx="1687.7" cy="1587.0" r="8.2"/><circle cx="1702.5" cy="1590.3" r="8.2"/><circle cx="1730.1" cy="1591.1" r="8.2"/><circle cx="1601.7" cy="1587.0" r="8.2"/><circle cx="1601.7" cy="1598.6" r="8.2"/><circle cx="1812.9" cy="1597.2" r="8.2"/><circle cx="1843.3" cy="1589.8" r="8.2"/><circle cx="1649.7" cy="1601.9" r="8.2"/><circle cx="1664.5" cy="1605.2" r="8.2"/><circle cx="1679.4" cy="1600.2" r="8.2"/><circle cx="1691.0" cy="1601.9" r="8.2"/><circle cx="1704.2" cy="1603.5" r="8.2"/><circle cx="1712.5" cy="1608.5" r="8.2"/><circle cx="1727.3" cy="1608.5" r="8.2"/><circle cx="1738.9" cy="1607.6" r="8.2"/><circle cx="1740.6" cy="1618.4" r="8.2"/><circle cx="1631.5" cy="1609.3" r="8.2"/><circle cx="1651.3" cy="1611.8" r="8.2"/><circle cx="1667.8" cy="1610.1" r="8.2"/><circle cx="1684.4" cy="1610.1" r="8.2"/><circle cx="1699.2" cy="1608.5" r="8.2"/><circle cx="1719.1" cy="1615.1" r="8.2"/><circle cx="1578.6" cy="1612.6" r="8.2"/><circle cx="1603.4" cy="1615.9" r="8.2"/><circle cx="1686.0" cy="1630.8" r="8.2"/><circle cx="1694.3" cy="1634.9" r="8.2"/><circle cx="1704.2" cy="1641.5" r="8.2"/><circle cx="1705.8" cy="1646.5" r="8.2"/><circle cx="1726.5" cy="1630.8" r="8.2"/><circle cx="1724.0" cy="1638.2" r="8.2"/><circle cx="1730.6" cy="1644.8" r="8.2"/><circle cx="1740.6" cy="1634.9" r="8.2"/><circle cx="1755.4" cy="1641.5" r="8.2"/><circle cx="1765.3" cy="1640.7" r="8.2"/><circle cx="1773.6" cy="1640.7" r="8.2"/><circle cx="1752.9" cy="1655.6" r="8.2"/><circle cx="1726.5" cy="1664.3" r="8.2"/><circle cx="1707.0" cy="1671.8" r="8.2"/><circle cx="1684.2" cy="1654.0" r="8.2"/><circle cx="1689.7" cy="1663.5" r="8.2"/><circle cx="1700.9" cy="1651.4" r="8.2"/><circle cx="1691.0" cy="1664.6" r="8.2"/><circle cx="1681.1" cy="1672.9" r="8.2"/><circle cx="1770.0" cy="1691.9" r="8.2"/><circle cx="1714.4" cy="1746.5" r="8.2"/><circle cx="1520.0" cy="1628.0" r="8.2"/><circle cx="1508.3" cy="1640.8" r="8.2"/><circle cx="1513.0" cy="1647.2" r="8.2"/><circle cx="1548.2" cy="1634.4" r="8.2"/><circle cx="1541.8" cy="1647.7" r="8.2"/><circle cx="1540.8" cy="1655.2" r="8.2"/><circle cx="1557.3" cy="1647.2" r="8.2"/><circle cx="1576.5" cy="1628.0" r="8.2"/><circle cx="1587.7" cy="1629.1" r="8.2"/><circle cx="1586.6" cy="1647.2" r="8.2"/><circle cx="1593.0" cy="1652.0" r="8.2"/><circle cx="1605.8" cy="1634.9" r="8.2"/><circle cx="1617.5" cy="1626.4" r="8.2"/><circle cx="1627.1" cy="1629.6" r="8.2"/><circle cx="1613.3" cy="1641.3" r="8.2"/><circle cx="1602.6" cy="1646.7" r="8.2"/><circle cx="1647.4" cy="1633.9" r="8.2"/><circle cx="1661.2" cy="1633.9" r="8.2"/><circle cx="1671.9" cy="1633.9" r="8.2"/><circle cx="1680.0" cy="1636.0" r="8.2"/><circle cx="1629.3" cy="1641.3" r="8.2"/><circle cx="1639.9" cy="1646.7" r="8.2"/><circle cx="1650.6" cy="1643.5" r="8.2"/><circle cx="1661.2" cy="1645.6" r="8.2"/><circle cx="1671.9" cy="1646.7" r="8.2"/><circle cx="1627.1" cy="1654.1" r="8.2"/><circle cx="1637.8" cy="1657.3" r="8.2"/><circle cx="1650.6" cy="1656.2" r="8.2"/><circle cx="1659.1" cy="1657.3" r="8.2"/><circle cx="1677.2" cy="1662.6" r="8.2"/><circle cx="1667.6" cy="1668.0" r="8.2"/><circle cx="1661.2" cy="1669.0" r="8.2"/><circle cx="1499.2" cy="1663.7" r="8.2"/><circle cx="1506.7" cy="1663.7" r="8.2"/><circle cx="1515.2" cy="1664.8" r="8.2"/><circle cx="1545.0" cy="1665.8" r="8.2"/><circle cx="1563.2" cy="1668.0" r="8.2"/><circle cx="1569.6" cy="1668.0" r="8.2"/><circle cx="1588.7" cy="1666.9" r="8.2"/><circle cx="1597.3" cy="1662.6" r="8.2"/><circle cx="1607.9" cy="1660.5" r="8.2"/><circle cx="1618.6" cy="1662.6" r="8.2"/><circle cx="1645.2" cy="1671.2" r="8.2"/><circle cx="1637.8" cy="1677.6" r="8.2"/><circle cx="1655.9" cy="1673.3" r="8.2"/><circle cx="1669.8" cy="1677.6" r="8.2"/><circle cx="1680.0" cy="1677.6" r="8.2"/><circle cx="1498.1" cy="1676.5" r="8.2"/><circle cx="1507.7" cy="1675.4" r="8.2"/><circle cx="1515.2" cy="1677.6" r="8.2"/><circle cx="1526.9" cy="1679.7" r="8.2"/><circle cx="1539.7" cy="1677.6" r="8.2"/><circle cx="1549.3" cy="1679.7" r="8.2"/><circle cx="1560.0" cy="1679.7" r="8.2"/><circle cx="1568.5" cy="1681.8" r="8.2"/><circle cx="1596.2" cy="1680.8" r="8.2"/><circle cx="1613.3" cy="1681.8" r="8.2"/><circle cx="1622.9" cy="1680.8" r="8.2"/><circle cx="1629.3" cy="1682.9" r="8.2"/><circle cx="1496.0" cy="1686.6" r="8.2"/><circle cx="1505.6" cy="1689.3" r="8.2"/><circle cx="1526.9" cy="1690.4" r="8.2"/><circle cx="1537.6" cy="1692.5" r="8.2"/><circle cx="1548.2" cy="1694.6" r="8.2"/><circle cx="1560.0" cy="1692.5" r="8.2"/><circle cx="1570.6" cy="1692.5" r="8.2"/><circle cx="1600.5" cy="1692.5" r="8.2"/><circle cx="1611.1" cy="1696.8" r="8.2"/><circle cx="1621.8" cy="1698.9" r="8.2"/><circle cx="1627.1" cy="1689.3" r="8.2"/><circle cx="1657.0" cy="1686.1" r="8.2"/><circle cx="1670.8" cy="1694.6" r="8.2"/><circle cx="1677.2" cy="1686.1" r="8.2"/><circle cx="1506.1" cy="1702.1" r="8.2"/><circle cx="1585.5" cy="1699.4" r="8.2"/><circle cx="1593.0" cy="1701.0" r="8.2"/><circle cx="1492.8" cy="1712.8" r="8.2"/><circle cx="1522.6" cy="1709.6" r="8.2"/><circle cx="1515.2" cy="1715.9" r="8.2"/><circle cx="1555.7" cy="1711.7" r="8.2"/><circle cx="1565.3" cy="1711.7" r="8.2"/><circle cx="1573.8" cy="1715.9" r="8.2"/><circle cx="1593.0" cy="1712.8" r="8.2"/><circle cx="1606.3" cy="1713.8" r="8.2"/><circle cx="1500.3" cy="1725.5" r="8.2"/><circle cx="1513.0" cy="1726.6" r="8.2"/><circle cx="1532.2" cy="1725.5" r="8.2"/><circle cx="1540.2" cy="1725.5" r="8.2"/><circle cx="1564.2" cy="1722.3" r="8.2"/><circle cx="1573.8" cy="1724.5" r="8.2"/><circle cx="1591.9" cy="1725.5" r="8.2"/><circle cx="1603.7" cy="1730.9" r="8.2"/><circle cx="1611.1" cy="1730.9" r="8.2"/><circle cx="1519.4" cy="1735.1" r="8.2"/><circle cx="1498.1" cy="1739.4" r="8.2"/><circle cx="1529.0" cy="1743.7" r="8.2"/><circle cx="1537.6" cy="1742.6" r="8.2"/><circle cx="1552.5" cy="1740.5" r="8.2"/><circle cx="1561.0" cy="1742.6" r="8.2"/><circle cx="1575.9" cy="1741.5" r="8.2"/><circle cx="1483.2" cy="1739.4" r="8.2"/><circle cx="1498.1" cy="1746.9" r="8.2"/><circle cx="1594.6" cy="1751.1" r="8.2"/><circle cx="1601.0" cy="1757.5" r="8.2"/><circle cx="1509.3" cy="1758.6" r="8.2"/><circle cx="1542.9" cy="1757.5" r="8.2"/><circle cx="1556.8" cy="1759.7" r="8.2"/><circle cx="1568.5" cy="1756.5" r="8.2"/><circle cx="1581.3" cy="1759.7" r="8.2"/><circle cx="1482.1" cy="1758.6" r="8.2"/><circle cx="1483.2" cy="1752.2" r="8.2"/><circle cx="1529.0" cy="1767.7" r="8.2"/><circle cx="1537.6" cy="1766.1" r="8.2"/><circle cx="1631.7" cy="1759.7" r="8.2"/><circle cx="1649.2" cy="1759.7" r="8.2"/><circle cx="1540.8" cy="1782.0" r="8.2"/><circle cx="1539.2" cy="1789.5" r="8.2"/><circle cx="1486.4" cy="1779.9" r="8.2"/><circle cx="1484.3" cy="1789.5" r="8.2"/><circle cx="1505.1" cy="1781.5" r="8.2"/><circle cx="1513.0" cy="1789.5" r="8.2"/><circle cx="1517.8" cy="1800.2" r="8.2"/><circle cx="1600.5" cy="1792.7" r="8.2"/><circle cx="1641.2" cy="1794.0" r="8.2"/><circle cx="1580.2" cy="1677.6" r="8.2"/><circle cx="1586.6" cy="1686.1" r="8.2"/><circle cx="1578.1" cy="1688.2" r="8.2"/><circle cx="1582.3" cy="1715.9" r="8.2"/><circle cx="1584.5" cy="1722.3" r="8.2"/><circle cx="1586.6" cy="1726.6" r="8.2"/><circle cx="1578.1" cy="1731.9" r="8.2"/><circle cx="1544.0" cy="1703.2" r="8.2"/><circle cx="1552.5" cy="1704.2" r="8.2"/><circle cx="1539.7" cy="1700.0" r="8.2"/><circle cx="1607.9" cy="1652.0" r="8.2"/><circle cx="1597.3" cy="1655.2" r="8.2"/><circle cx="1613.3" cy="1666.9" r="8.2"/><circle cx="1629.3" cy="1668.0" r="8.2"/><circle cx="1639.9" cy="1664.8" r="8.2"/><circle cx="1652.7" cy="1665.8" r="8.2"/><circle cx="1677.2" cy="1671.2" r="8.2"/><circle cx="1622.9" cy="1646.7" r="8.2"/></g>
<line class="d" x1="1143.9" y1="1965.7" x2="1970.4" y2="1421.1" stroke-dashoffset="-2.8"/>
<rect class="f" x="1143.9" y="1421.1" width="826.5" height="544.6"/>
<line class="k" x1="1255.9" y1="1965.7" x2="1255.9" y2="1976.7"/><text class="t" x="1255.9" y="2007.2" text-anchor="middle">100</text>
<line class="k" x1="1406.3" y1="1965.7" x2="1406.3" y2="1976.7"/><text class="t" x="1406.3" y="2007.2" text-anchor="middle">200</text>
<line class="k" x1="1556.7" y1="1965.7" x2="1556.7" y2="1976.7"/><text class="t" x="1556.7" y="2007.2" text-anchor="middle">300</text>
<line class="k" x1="1707.1" y1="1965.7" x2="1707.1" y2="1976.7"/><text class="t" x="1707.1" y="2007.2" text-anchor="middle">400</text>
<line class="k" x1="1857.5" y1="1965.7" x2="1857.5" y2="1976.7"/><text class="t" x="1857.5" y="2007.2" text-anchor="middle">500</text>
<line class="k" x1="1132.9" y1="1892.3" x2="1143.9" y2="1892.3"/><text class="t" x="1124.4" y="1903.6" text-anchor="end">100</text>
<line class="k" x1="1132.9" y1="1793.0" x2="1143.9" y2="1793.0"/><text class="t" x="1124.4" y="1804.2" text-anchor="end">200</text>
<line class="k" x1="1132.9" y1="1693.6" x2="1143.9" y2="1693.6"/><text class="t" x="1124.4" y="1704.9" text-anchor="end">300</text>
<line class="k" x1="1132.9" y1="1594.2" x2="1143.9" y2="1594.2"/><text class="t" x="1124.4" y="1605.5" text-anchor="end">400</text>
<line class="k" x1="1132.9" y1="1494.9" x2="1143.9" y2="1494.9"/><text class="t" x="1124.4" y="1506.2" text-anchor="end">500</text>
<text class="l" x="1557.2" y="2077.2" text-anchor="middle">Predicted Green (g/m²)</text>
<text class="l" transform="translate(1038.4 1693.4) rotate(-90)" text-anchor="middle">Observed Green (g/m²)</text>
<text class="p" x="1196.9" y="1462.5">f</text>
<text class="e" x="1206.8" y="1955.9">Y = X</text>
</g>
</svg>
</body></html>
